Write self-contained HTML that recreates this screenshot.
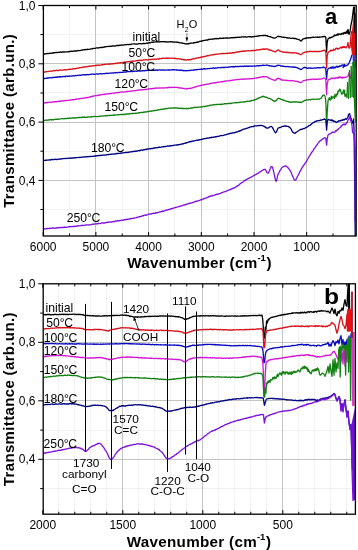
<!DOCTYPE html>
<html><head><meta charset="utf-8"><style>
html,body{margin:0;padding:0;background:#fff;}
svg{display:block;will-change:transform;}
text{font-family:"Liberation Sans",sans-serif;}
</style></head><body>
<svg width="358" height="550" viewBox="0 0 358 550">
<defs>
<clipPath id="ca"><rect x="43.4" y="5.5" width="313.8" height="230.5"/></clipPath>
<clipPath id="cb"><rect x="43.2" y="283.8" width="313.2" height="230.40000000000003"/></clipPath>
</defs>
<rect width="358" height="550" fill="#fff"/>
<line x1="69.5" y1="5.5" x2="69.5" y2="236.0" stroke="#e4e4e4" stroke-width="1" stroke-dasharray="1,1"/>
<line x1="122.5" y1="5.5" x2="122.5" y2="236.0" stroke="#e4e4e4" stroke-width="1" stroke-dasharray="1,1"/>
<line x1="174.5" y1="5.5" x2="174.5" y2="236.0" stroke="#e4e4e4" stroke-width="1" stroke-dasharray="1,1"/>
<line x1="227.5" y1="5.5" x2="227.5" y2="236.0" stroke="#e4e4e4" stroke-width="1" stroke-dasharray="1,1"/>
<line x1="280.5" y1="5.5" x2="280.5" y2="236.0" stroke="#e4e4e4" stroke-width="1" stroke-dasharray="1,1"/>
<line x1="333.5" y1="5.5" x2="333.5" y2="236.0" stroke="#e4e4e4" stroke-width="1" stroke-dasharray="1,1"/>
<line x1="43.4" y1="34.5" x2="356.2" y2="34.5" stroke="#e4e4e4" stroke-width="1" stroke-dasharray="1,1"/>
<line x1="43.4" y1="92.5" x2="356.2" y2="92.5" stroke="#e4e4e4" stroke-width="1" stroke-dasharray="1,1"/>
<line x1="43.4" y1="151.5" x2="356.2" y2="151.5" stroke="#e4e4e4" stroke-width="1" stroke-dasharray="1,1"/>
<line x1="43.4" y1="209.5" x2="356.2" y2="209.5" stroke="#e4e4e4" stroke-width="1" stroke-dasharray="1,1"/>
<line x1="95.5" y1="5.5" x2="95.5" y2="236.0" stroke="#c4c4c4" stroke-width="1"/>
<line x1="148.5" y1="5.5" x2="148.5" y2="236.0" stroke="#c4c4c4" stroke-width="1"/>
<line x1="201.5" y1="5.5" x2="201.5" y2="236.0" stroke="#c4c4c4" stroke-width="1"/>
<line x1="254.5" y1="5.5" x2="254.5" y2="236.0" stroke="#c4c4c4" stroke-width="1"/>
<line x1="306.5" y1="5.5" x2="306.5" y2="236.0" stroke="#c4c4c4" stroke-width="1"/>
<line x1="43.4" y1="63.5" x2="356.2" y2="63.5" stroke="#c4c4c4" stroke-width="1"/>
<line x1="43.4" y1="122.5" x2="356.2" y2="122.5" stroke="#c4c4c4" stroke-width="1"/>
<line x1="43.4" y1="180.5" x2="356.2" y2="180.5" stroke="#c4c4c4" stroke-width="1"/>
<line x1="346.5" y1="283.8" x2="346.5" y2="514.2" stroke="#e4e4e4" stroke-width="1" stroke-dasharray="1,1"/>
<line x1="330.5" y1="283.8" x2="330.5" y2="514.2" stroke="#e4e4e4" stroke-width="1" stroke-dasharray="1,1"/>
<line x1="314.5" y1="283.8" x2="314.5" y2="514.2" stroke="#e4e4e4" stroke-width="1" stroke-dasharray="1,1"/>
<line x1="298.5" y1="283.8" x2="298.5" y2="514.2" stroke="#e4e4e4" stroke-width="1" stroke-dasharray="1,1"/>
<line x1="266.5" y1="283.8" x2="266.5" y2="514.2" stroke="#e4e4e4" stroke-width="1" stroke-dasharray="1,1"/>
<line x1="250.5" y1="283.8" x2="250.5" y2="514.2" stroke="#e4e4e4" stroke-width="1" stroke-dasharray="1,1"/>
<line x1="234.5" y1="283.8" x2="234.5" y2="514.2" stroke="#e4e4e4" stroke-width="1" stroke-dasharray="1,1"/>
<line x1="218.5" y1="283.8" x2="218.5" y2="514.2" stroke="#e4e4e4" stroke-width="1" stroke-dasharray="1,1"/>
<line x1="186.5" y1="283.8" x2="186.5" y2="514.2" stroke="#e4e4e4" stroke-width="1" stroke-dasharray="1,1"/>
<line x1="170.5" y1="283.8" x2="170.5" y2="514.2" stroke="#e4e4e4" stroke-width="1" stroke-dasharray="1,1"/>
<line x1="154.5" y1="283.8" x2="154.5" y2="514.2" stroke="#e4e4e4" stroke-width="1" stroke-dasharray="1,1"/>
<line x1="138.5" y1="283.8" x2="138.5" y2="514.2" stroke="#e4e4e4" stroke-width="1" stroke-dasharray="1,1"/>
<line x1="106.5" y1="283.8" x2="106.5" y2="514.2" stroke="#e4e4e4" stroke-width="1" stroke-dasharray="1,1"/>
<line x1="90.5" y1="283.8" x2="90.5" y2="514.2" stroke="#e4e4e4" stroke-width="1" stroke-dasharray="1,1"/>
<line x1="74.5" y1="283.8" x2="74.5" y2="514.2" stroke="#e4e4e4" stroke-width="1" stroke-dasharray="1,1"/>
<line x1="58.5" y1="283.8" x2="58.5" y2="514.2" stroke="#e4e4e4" stroke-width="1" stroke-dasharray="1,1"/>
<line x1="43.2" y1="313.5" x2="355.4" y2="313.5" stroke="#e4e4e4" stroke-width="1" stroke-dasharray="1,1"/>
<line x1="43.2" y1="371.5" x2="355.4" y2="371.5" stroke="#e4e4e4" stroke-width="1" stroke-dasharray="1,1"/>
<line x1="43.2" y1="430.5" x2="355.4" y2="430.5" stroke="#e4e4e4" stroke-width="1" stroke-dasharray="1,1"/>
<line x1="43.2" y1="488.5" x2="355.4" y2="488.5" stroke="#e4e4e4" stroke-width="1" stroke-dasharray="1,1"/>
<line x1="122.5" y1="283.8" x2="122.5" y2="514.2" stroke="#c4c4c4" stroke-width="1"/>
<line x1="202.5" y1="283.8" x2="202.5" y2="514.2" stroke="#c4c4c4" stroke-width="1"/>
<line x1="282.5" y1="283.8" x2="282.5" y2="514.2" stroke="#c4c4c4" stroke-width="1"/>
<line x1="43.2" y1="342.5" x2="355.4" y2="342.5" stroke="#c4c4c4" stroke-width="1"/>
<line x1="43.2" y1="400.5" x2="355.4" y2="400.5" stroke="#c4c4c4" stroke-width="1"/>
<line x1="43.2" y1="459.5" x2="355.4" y2="459.5" stroke="#c4c4c4" stroke-width="1"/>
<g clip-path="url(#ca)">
<polyline points="43.2,54.2 43.5,54.1 43.8,54.3 44.1,54.0 44.5,54.1 44.9,54.0 45.4,53.8 45.8,53.9 46.3,53.6 46.8,53.7 47.3,53.5 47.9,53.4 48.4,53.5 49.0,53.6 49.6,53.2 50.2,53.2 50.8,53.3 51.4,53.4 52.0,53.1 52.6,52.9 53.2,53.1 53.8,52.6 54.4,52.9 55.0,52.6 55.5,52.5 55.9,52.4 56.4,52.5 56.8,52.7 57.3,52.3 57.8,52.5 58.3,52.5 58.8,52.3 59.3,52.4 59.8,52.1 60.3,52.0 60.8,52.1 61.3,52.3 61.8,52.1 62.3,52.0 62.8,52.1 63.3,52.0 63.8,51.9 64.4,52.1 64.9,52.0 65.4,51.8 65.9,51.9 66.4,51.8 66.9,52.0 67.5,51.8 68.0,51.6 68.5,51.9 69.0,51.4 69.5,51.5 70.0,51.6 70.5,51.3 71.0,51.4 71.5,51.1 72.0,51.4 72.5,51.4 73.0,51.2 73.5,51.3 74.0,51.0 74.5,51.1 75.0,51.0 75.5,51.0 76.0,50.9 76.5,51.0 77.0,51.0 77.5,50.7 78.0,50.7 78.5,50.4 79.0,50.6 79.5,50.6 80.0,50.7 80.5,50.5 81.0,50.2 81.5,50.2 82.0,50.3 82.5,49.9 83.0,50.0 83.5,49.8 84.0,49.7 84.5,49.6 85.0,49.9 85.5,49.5 86.0,49.5 86.5,49.5 87.0,49.7 87.5,49.2 88.0,49.4 88.5,49.3 89.0,49.4 89.5,49.3 90.0,49.3 90.5,48.9 91.0,48.9 91.5,48.8 92.0,49.0 92.5,48.9 93.0,48.4 93.5,48.4 94.0,48.3 94.5,48.3 95.0,48.3 95.5,48.3 96.0,48.0 96.5,47.8 97.0,48.0 97.5,47.9 98.0,47.9 98.5,48.0 99.0,47.8 99.5,47.7 100.0,47.7 100.5,47.6 101.0,47.2 101.5,47.6 102.0,47.5 102.5,47.5 103.0,47.4 103.5,47.1 104.0,47.1 104.5,46.9 105.0,47.1 105.5,46.7 106.0,46.7 106.5,46.7 107.0,46.6 107.5,46.6 108.0,46.4 108.5,46.4 109.0,46.4 109.5,46.3 110.0,46.4 110.5,46.1 111.0,46.5 111.5,46.3 112.0,46.0 112.5,46.0 113.0,46.0 113.5,46.0 114.0,45.8 114.5,46.1 115.0,46.1 115.5,45.8 116.0,45.8 116.5,45.5 117.0,45.5 117.5,45.5 118.0,45.4 118.5,45.7 119.0,45.3 119.5,45.2 120.0,45.6 120.5,45.3 121.0,45.0 121.5,45.2 122.0,44.9 122.5,45.1 123.0,45.2 123.5,45.1 124.0,45.0 124.5,44.7 125.0,44.7 125.5,44.6 126.0,44.8 126.5,44.6 127.0,44.7 127.5,44.4 128.0,44.3 128.5,44.6 129.0,44.6 129.5,44.5 130.0,44.5 130.5,44.4 131.0,44.3 131.5,44.0 132.0,44.2 132.6,44.0 133.1,43.8 133.6,43.8 134.1,43.9 134.7,43.9 135.2,44.1 135.7,44.2 136.2,43.9 136.8,44.1 137.3,44.1 137.8,44.1 138.3,43.8 138.8,43.7 139.4,43.6 139.9,43.6 140.4,43.6 140.9,43.8 141.4,43.9 141.8,43.8 142.3,43.6 142.8,43.7 143.3,43.7 143.7,43.3 144.1,43.6 144.6,43.6 145.0,43.5 145.6,43.5 146.2,43.3 146.8,43.0 147.3,43.3 147.9,43.0 148.4,43.1 148.9,43.1 149.4,42.7 149.8,42.6 150.3,42.8 150.8,42.6 151.2,42.3 151.7,42.2 152.2,42.1 152.6,42.4 153.1,42.3 153.5,41.9 154.0,42.2 154.5,42.2 155.0,42.0 155.5,41.8 156.0,41.9 156.5,41.6 157.0,41.5 157.5,42.0 158.0,41.8 158.5,41.8 159.0,42.0 159.5,41.7 160.0,41.9 160.5,41.9 161.0,41.6 161.5,41.6 162.0,41.7 162.5,41.6 163.0,41.8 163.5,41.7 164.0,41.7 164.5,41.6 165.0,42.0 165.5,41.7 166.0,41.8 166.5,41.9 167.1,42.0 167.6,41.8 168.1,42.1 168.7,41.9 169.2,41.9 169.7,41.9 170.2,41.7 170.8,41.9 171.3,41.8 171.8,41.7 172.3,42.1 172.8,41.8 173.3,42.0 173.7,42.1 174.2,42.1 174.6,42.0 175.0,42.1 175.6,42.2 176.2,42.3 176.8,42.0 177.3,42.3 177.8,42.2 178.2,42.3 178.7,42.6 179.1,42.5 179.6,42.6 180.0,42.8 180.5,42.9 181.0,42.8 181.5,42.9 182.0,43.0 182.5,43.1 182.9,43.3 183.4,43.3 183.9,43.4 184.4,43.5 184.9,43.8 185.4,43.8 185.9,43.9 186.4,44.0 187.0,43.7 187.4,43.8 187.9,44.0 188.4,43.9 188.9,43.5 189.4,43.4 189.9,43.5 190.5,43.2 191.0,43.2 191.5,43.0 192.1,43.2 192.6,43.2 193.1,43.2 193.6,42.7 194.1,42.9 194.6,42.8 195.0,42.4 195.6,42.7 196.1,42.6 196.6,42.1 197.0,42.4 197.5,42.0 197.9,41.9 198.4,42.1 198.9,41.9 199.3,41.4 199.8,41.4 200.4,41.3 201.0,41.1 201.4,41.0 201.9,40.9 202.3,41.0 202.8,40.6 203.3,40.7 203.7,40.6 204.2,40.3 204.7,40.3 205.2,40.3 205.8,40.2 206.3,39.8 206.8,40.2 207.3,40.0 207.9,40.0 208.4,39.5 208.9,39.4 209.5,39.3 210.0,39.5 210.5,39.2 211.0,39.1 211.4,39.2 211.9,39.3 212.4,39.2 212.9,38.9 213.4,38.8 213.9,39.1 214.4,38.9 214.9,38.9 215.4,38.6 216.0,38.5 216.5,38.8 217.0,38.6 217.5,38.4 218.0,38.8 218.5,38.6 219.0,38.6 219.5,38.2 220.0,38.6 220.5,38.2 221.0,38.5 221.5,38.3 222.0,38.2 222.5,38.3 223.0,38.5 223.5,38.1 224.0,38.0 224.5,38.2 225.0,38.1 225.5,38.0 226.0,38.0 226.5,37.9 227.0,38.0 227.5,38.0 228.0,38.0 228.5,38.2 229.0,38.0 229.5,38.0 230.0,37.8 230.5,37.9 231.0,37.7 231.5,37.8 232.0,37.6 232.4,37.9 232.9,37.8 233.4,37.5 233.9,37.6 234.3,37.8 234.8,37.4 235.3,37.7 235.8,37.4 236.3,37.4 236.8,37.5 237.3,37.2 237.8,37.3 238.3,37.3 238.9,37.4 239.4,37.1 240.0,37.3 240.5,37.2 240.9,37.1 241.4,37.0 241.9,36.9 242.4,36.8 242.9,36.8 243.4,36.8 244.0,37.1 244.5,36.8 245.1,36.8 245.6,36.7 246.1,37.1 246.7,37.1 247.2,37.0 247.8,36.8 248.3,36.7 248.8,36.7 249.3,36.8 249.9,36.7 250.3,36.8 250.8,36.7 251.3,37.0 251.8,37.0 252.2,36.8 252.6,36.6 253.0,36.9 253.7,36.6 254.3,36.5 254.9,36.3 255.5,36.4 256.0,36.4 256.5,36.4 257.0,36.2 257.5,36.2 257.9,35.9 258.3,36.0 258.7,35.9 259.2,36.0 259.6,35.7 260.0,35.7 260.6,35.7 261.1,35.6 261.6,35.7 262.1,35.6 262.6,35.6 263.1,35.5 263.6,35.5 264.0,35.6 264.5,35.3 265.0,35.3 265.5,35.7 266.0,35.4 266.5,35.8 267.0,35.9 267.5,35.7 268.0,36.3 268.5,36.4 269.0,36.5 269.5,36.7 270.0,36.9 270.5,36.7 271.0,37.0 271.6,37.2 272.1,37.6 272.6,37.7 273.1,37.9 273.6,37.9 274.1,38.2 274.6,38.2 275.0,38.2 275.6,37.8 276.1,37.4 276.6,37.1 277.0,36.8 277.5,36.4 278.0,36.6 278.4,36.4 278.8,36.5 279.3,36.5 279.7,36.7 280.2,36.7 280.7,36.6 281.3,37.1 282.0,37.2 282.4,37.2 282.8,37.2 283.3,37.4 283.8,37.1 284.3,37.5 284.8,37.4 285.4,37.3 285.9,37.5 286.5,37.8 287.0,37.6 287.6,37.9 288.1,38.1 288.6,37.9 289.1,37.9 289.6,38.0 290.0,38.2 290.6,38.3 291.2,38.3 291.8,38.3 292.3,38.1 292.8,38.2 293.2,38.3 293.7,38.5 294.1,38.4 294.6,38.6 295.0,38.4 295.6,38.5 296.1,38.7 296.7,39.1 297.2,39.2 297.7,39.3 298.2,39.3 298.6,39.6 299.0,39.7 299.6,40.0 300.1,40.3 300.5,41.0 301.0,40.7 301.5,40.9 302.0,40.3 302.5,39.2 303.0,39.0 303.4,38.9 303.8,38.9 304.3,38.5 305.0,38.3 305.4,38.2 305.7,38.5 306.1,38.0 306.5,38.1 307.0,37.8 307.5,37.9 308.0,38.1 308.6,37.6 309.3,37.8 310.0,37.6 310.4,37.8 310.8,37.6 311.3,37.4 311.8,37.7 312.3,37.4 312.8,37.2 313.3,37.2 313.9,37.4 314.4,37.3 315.0,37.2 315.6,37.1 316.1,37.2 316.7,37.2 317.2,37.4 317.7,37.0 318.2,37.3 318.7,37.3 319.2,37.0 319.6,37.3 320.0,37.2 320.7,37.2 321.4,36.8 322.0,36.8 322.6,36.7 323.1,36.9 323.5,36.6 324.0,36.5 324.3,36.5 324.7,36.5 325.0,36.5 325.8,37.4 326.0,40.2 326.6,51.9 327.2,42.2 328.0,39.1 328.3,38.6 328.7,38.4 329.3,37.9 330.0,37.4 330.4,38.1 330.8,37.8 331.3,37.5 331.8,36.9 332.3,37.1 332.9,36.9 333.4,36.1 334.0,36.1 334.5,34.9 335.0,35.8 335.5,35.2 336.0,35.5 336.5,35.2 337.0,34.5 337.5,34.0 338.0,35.3 338.5,33.9 339.0,34.4 339.5,34.1 340.0,33.9 340.5,34.5 341.0,34.7 341.6,33.4 342.1,33.9 342.6,33.2 343.1,33.5 343.6,33.1 344.1,32.7 344.6,32.6 345.0,32.5 345.7,33.5 346.4,32.7 347.1,32.2 347.7,33.2 348.0,33.3 348.0,32.4 347.8,32.0 347.4,32.1 346.9,32.1 346.3,32.6 345.7,32.4 345.0,32.7 344.4,32.9 343.8,33.5 343.3,34.1 343.0,34.0 344.0,33.2 346.0,32.8 348.0,29.5 349.0,34.4 350.0,32.0 351.0,24.6 352.0,20.5 353.0,12.3 353.6,7.5 354.1,7.0 354.6,33.0" fill="none" stroke="#000000" stroke-width="1.3" stroke-linejoin="round"/>
<polyline points="43.2,72.3 43.5,72.2 43.8,72.2 44.1,72.1 44.5,72.0 44.9,71.8 45.4,71.9 45.8,72.1 46.3,71.6 46.8,71.7 47.3,71.7 47.9,71.7 48.4,71.3 49.0,71.3 49.6,71.2 50.2,71.2 50.8,71.1 51.4,71.3 52.0,71.1 52.6,71.1 53.2,70.6 53.8,70.5 54.4,70.8 55.0,70.8 55.5,70.5 55.9,70.6 56.4,70.2 56.8,70.4 57.3,70.6 57.8,70.5 58.3,70.5 58.8,70.5 59.3,70.1 59.8,70.0 60.3,70.0 60.8,70.2 61.3,70.2 61.8,70.3 62.3,70.2 62.8,70.1 63.3,70.1 63.8,69.9 64.4,69.9 64.9,69.6 65.4,70.0 65.9,69.7 66.4,70.0 66.9,69.8 67.5,69.6 68.0,69.4 68.5,69.4 69.0,69.6 69.5,69.6 70.0,69.2 70.5,69.1 71.0,69.3 71.5,69.2 72.0,69.1 72.5,68.9 73.0,69.0 73.5,68.6 74.0,68.7 74.5,68.7 75.0,68.9 75.5,68.6 76.0,68.7 76.5,68.4 77.0,68.2 77.5,68.1 78.0,68.3 78.5,68.1 79.0,67.8 79.5,67.6 80.0,67.7 80.5,67.7 81.0,67.5 81.5,67.3 82.0,67.5 82.5,67.5 83.0,67.1 83.5,66.9 84.0,67.0 84.5,66.9 85.0,67.0 85.5,66.7 86.0,66.9 86.5,66.8 87.0,66.6 87.5,66.4 88.0,66.7 88.5,66.3 89.0,66.5 89.5,66.1 90.0,66.1 90.5,66.3 91.0,66.0 91.5,66.2 92.0,65.9 92.5,65.7 93.0,65.7 93.5,65.7 94.0,65.8 94.5,65.9 95.0,65.4 95.5,65.5 96.0,65.3 96.5,65.6 97.0,65.2 97.5,65.1 98.0,65.0 98.5,65.1 99.0,65.3 99.5,65.2 100.0,65.1 100.5,65.2 101.0,65.1 101.5,64.8 102.0,64.6 102.5,65.0 103.0,64.8 103.5,64.4 104.0,64.7 104.5,64.5 105.0,64.4 105.5,64.4 106.0,64.2 106.5,64.1 107.0,64.2 107.5,64.2 108.0,64.4 108.5,64.0 109.0,64.3 109.5,63.9 110.0,64.0 110.5,64.1 111.0,64.1 111.5,63.8 112.0,63.6 112.5,63.8 113.0,63.7 113.5,63.9 114.0,63.5 114.5,63.5 115.0,63.7 115.5,63.2 116.0,63.3 116.5,63.5 117.0,63.4 117.5,63.0 118.0,62.9 118.5,62.8 119.0,63.2 119.5,62.8 120.0,63.0 120.5,63.0 121.0,62.6 121.5,62.5 122.0,62.8 122.5,62.6 123.0,62.3 123.5,62.5 124.0,62.2 124.5,62.1 125.0,61.9 125.5,62.2 126.0,62.2 126.5,62.0 127.0,62.1 127.5,61.6 128.0,61.6 128.5,61.7 129.0,61.9 129.5,61.8 130.0,61.4 130.5,61.3 131.0,61.3 131.5,61.3 132.0,61.5 132.6,61.0 133.1,61.3 133.6,61.2 134.1,61.2 134.7,61.1 135.2,61.0 135.7,60.8 136.2,60.7 136.8,60.7 137.3,60.8 137.8,60.4 138.3,60.4 138.8,60.6 139.4,60.3 139.9,60.2 140.4,60.1 140.9,60.3 141.4,60.2 141.8,60.4 142.3,60.3 142.8,60.4 143.3,59.9 143.7,59.8 144.1,59.8 144.6,59.9 145.0,60.0 145.6,59.8 146.2,59.7 146.8,59.7 147.3,59.8 147.9,59.8 148.4,59.8 148.9,59.8 149.4,59.7 149.8,59.4 150.3,59.7 150.8,59.4 151.2,59.5 151.7,59.4 152.2,59.5 152.6,59.2 153.1,59.2 153.5,59.2 154.0,59.1 154.5,59.4 155.0,59.2 155.5,59.1 156.0,59.1 156.5,59.3 157.0,59.0 157.5,58.8 158.0,59.0 158.5,58.9 159.0,59.0 159.5,58.5 160.0,58.6 160.5,58.7 161.0,58.7 161.5,58.7 162.0,58.2 162.5,58.3 163.0,58.1 163.5,58.1 164.0,58.5 164.5,58.3 165.0,58.4 165.5,58.1 166.0,58.4 166.5,58.1 167.0,58.0 167.5,58.3 167.9,58.4 168.4,58.0 168.9,58.2 169.4,58.2 169.9,58.1 170.4,58.2 170.9,58.1 171.4,58.1 171.9,58.2 172.4,58.4 172.9,58.4 173.4,58.2 173.9,58.2 174.5,58.4 175.0,58.6 175.5,58.4 175.9,58.5 176.4,58.5 176.9,58.8 177.4,58.8 178.0,58.6 178.5,58.7 179.0,58.9 179.5,59.1 180.1,59.2 180.6,59.0 181.1,59.1 181.7,59.5 182.2,59.4 182.7,59.4 183.2,59.5 183.7,59.9 184.2,59.6 184.7,59.8 185.2,59.7 185.7,59.8 186.1,60.1 186.6,60.1 187.0,59.8 187.6,59.7 188.2,60.0 188.8,59.7 189.3,59.5 189.9,59.9 190.4,59.5 190.9,59.6 191.4,59.3 191.9,59.4 192.3,59.1 192.8,58.9 193.2,58.7 193.7,58.8 194.1,58.8 194.6,58.8 195.0,58.3 195.6,58.5 196.1,58.2 196.6,58.2 197.0,57.9 197.5,57.9 197.9,57.9 198.4,58.0 198.9,57.5 199.3,57.6 199.8,57.6 200.4,57.6 201.0,57.0 201.4,56.9 201.9,57.2 202.3,57.2 202.8,56.8 203.3,56.5 203.7,56.8 204.2,56.4 204.7,56.6 205.2,56.3 205.8,56.3 206.3,55.9 206.8,56.1 207.3,55.7 207.9,55.7 208.4,55.8 208.9,55.7 209.5,55.2 210.0,55.2 210.5,55.2 211.0,55.1 211.4,55.0 211.9,54.8 212.4,54.7 212.9,54.9 213.4,54.9 213.9,54.4 214.4,54.6 214.9,54.6 215.4,54.2 216.0,54.5 216.5,54.1 217.0,54.2 217.5,54.1 218.0,54.1 218.5,53.9 219.0,53.9 219.5,53.9 220.0,53.8 220.5,53.8 221.0,53.7 221.5,53.6 222.0,53.4 222.5,53.7 223.0,53.6 223.5,53.4 224.0,53.7 224.5,53.7 225.0,53.5 225.5,53.3 226.0,53.5 226.5,53.3 227.0,53.2 227.5,53.4 228.0,53.2 228.5,53.3 229.0,53.3 229.5,53.0 230.0,53.3 230.5,52.9 231.0,53.2 231.5,53.1 232.0,52.9 232.4,52.6 232.9,52.8 233.4,52.6 233.9,52.8 234.3,52.3 234.8,52.6 235.3,52.5 235.8,52.3 236.3,52.2 236.8,51.8 237.3,52.1 237.8,51.8 238.3,52.0 238.9,51.9 239.4,51.4 240.0,51.6 240.4,51.7 240.9,51.2 241.4,51.3 241.8,51.4 242.3,51.1 242.8,51.4 243.3,51.1 243.8,51.3 244.3,50.9 244.8,51.1 245.3,51.3 245.9,50.9 246.4,50.9 246.9,51.0 247.4,50.8 247.9,50.7 248.5,50.7 249.0,50.7 249.5,51.0 250.0,50.8 250.5,50.9 251.0,50.5 251.5,50.8 252.0,50.4 252.5,50.6 253.0,50.6 253.5,50.4 254.1,50.6 254.6,50.3 255.1,50.3 255.7,50.4 256.2,49.9 256.8,50.3 257.3,50.0 257.9,49.8 258.4,49.9 259.0,49.6 259.5,49.9 260.0,49.6 260.5,49.4 261.1,49.5 261.6,49.3 262.0,49.1 262.5,49.3 263.0,48.9 263.4,49.3 263.8,48.9 264.2,49.1 264.6,49.3 265.0,49.0 265.8,49.1 266.4,49.0 267.0,48.9 267.5,49.0 267.9,49.2 268.3,49.6 268.7,49.6 269.1,49.8 269.5,50.2 270.0,49.9 270.5,50.1 271.0,50.5 271.6,50.4 272.1,50.7 272.6,51.1 273.1,51.1 273.6,51.4 274.1,51.5 274.6,51.8 275.0,51.8 275.6,51.5 276.1,51.4 276.6,50.9 277.0,50.4 277.5,50.4 278.0,50.0 278.4,50.0 278.8,50.1 279.3,50.6 279.7,51.0 280.2,51.2 280.7,51.3 281.3,51.5 282.0,51.6 282.4,52.0 282.8,52.0 283.3,52.0 283.8,52.2 284.3,52.1 284.8,52.4 285.4,52.4 285.9,52.2 286.5,52.6 287.0,52.2 287.6,52.5 288.1,52.5 288.6,52.5 289.1,52.4 289.6,52.8 290.0,52.5 290.6,52.8 291.2,53.0 291.8,52.6 292.3,52.6 292.8,52.9 293.2,52.8 293.7,52.9 294.1,53.0 294.6,52.7 295.0,52.8 295.6,52.9 296.1,52.8 296.7,53.4 297.2,53.4 297.7,53.5 298.2,53.3 298.6,53.9 299.0,53.9 299.6,54.1 300.1,54.6 300.5,54.7 301.0,54.7 301.5,54.3 302.0,53.9 302.5,53.2 303.0,52.9 303.4,52.8 303.8,52.6 304.3,52.5 305.0,52.2 305.4,51.9 305.7,52.0 306.1,51.9 306.5,52.0 307.0,51.8 307.5,51.6 308.0,51.7 308.6,51.8 309.3,51.4 310.0,51.7 310.4,51.2 310.8,51.3 311.3,51.3 311.8,51.6 312.3,51.7 312.8,51.6 313.3,51.3 313.9,51.6 314.4,51.3 315.0,51.3 315.6,51.6 316.1,51.5 316.7,51.5 317.2,51.5 317.7,51.6 318.2,51.4 318.7,51.5 319.2,51.4 319.6,51.5 320.0,51.3 320.7,51.3 321.4,51.1 322.0,50.8 322.6,50.6 323.1,50.7 323.5,50.3 324.0,50.6 324.3,50.2 324.7,50.1 325.0,50.3 325.8,52.1 326.0,54.9 326.6,67.8 327.2,55.8 328.0,52.5 328.3,52.3 328.7,51.8 329.3,51.5 330.0,51.4 330.4,50.1 330.8,50.8 331.3,50.3 331.8,50.8 332.3,50.6 332.9,50.6 333.4,49.1 334.0,50.2 334.5,50.1 335.0,50.0 335.5,48.5 336.0,48.6 336.5,48.3 337.0,48.0 337.5,49.2 338.0,49.0 338.5,48.6 339.0,48.8 339.5,48.4 340.0,47.8 340.5,47.3 341.1,47.2 341.7,48.2 342.3,47.2 342.9,47.3 343.5,47.3 344.0,46.6 344.4,46.9 344.8,46.8 345.0,47.4 344.9,46.7 344.3,46.5 343.5,47.4 343.0,46.6 344.0,47.0 346.0,47.8 347.5,45.5 348.0,42.5 348.5,46.0 349.0,48.2 350.0,47.4 351.0,35.0 352.0,31.0" fill="none" stroke="#d81018" stroke-width="1.3" stroke-linejoin="round"/>
<polyline points="43.2,78.8 43.5,78.6 43.8,78.3 44.1,78.5 44.5,78.4 44.9,78.5 45.4,78.3 45.8,78.4 46.3,78.3 46.8,78.0 47.3,78.3 47.9,77.9 48.4,78.2 49.0,77.8 49.6,77.6 50.2,77.6 50.8,77.9 51.4,77.9 52.0,77.4 52.6,77.5 53.2,77.5 53.8,77.6 54.4,77.2 55.0,77.3 55.5,77.2 55.9,77.4 56.4,77.1 56.8,77.4 57.3,77.0 57.8,76.9 58.3,77.1 58.8,77.0 59.3,76.7 59.8,77.0 60.3,76.6 60.8,77.0 61.3,76.9 61.8,76.9 62.3,76.8 62.8,76.6 63.3,76.6 63.8,76.5 64.4,76.7 64.9,76.3 65.4,76.7 65.9,76.2 66.4,76.2 66.9,76.2 67.5,76.5 68.0,76.3 68.5,76.2 69.0,76.4 69.5,76.0 70.0,76.1 70.5,76.1 71.0,76.1 71.5,76.1 72.0,76.0 72.5,75.8 73.0,75.8 73.5,75.6 74.0,75.9 74.5,75.8 75.0,75.8 75.5,75.5 76.0,75.5 76.5,75.7 77.0,75.5 77.5,75.3 78.0,75.4 78.5,75.5 79.0,75.2 79.5,75.1 80.0,75.1 80.5,75.3 81.0,75.3 81.5,74.9 82.0,74.9 82.5,74.9 83.0,74.9 83.5,74.9 84.0,74.7 84.5,74.8 85.0,74.6 85.5,75.0 86.0,74.8 86.5,74.5 87.0,74.9 87.5,74.4 88.0,74.5 88.5,74.8 89.0,74.7 89.5,74.6 90.0,74.4 90.5,74.3 91.0,74.4 91.5,74.1 92.0,74.2 92.5,74.2 93.0,74.0 93.5,74.2 94.0,74.3 94.5,74.3 95.0,74.1 95.5,74.2 96.0,74.0 96.5,73.8 97.0,74.0 97.5,73.9 98.0,74.1 98.5,74.1 99.0,73.8 99.5,73.9 100.0,73.9 100.5,73.7 101.0,73.6 101.5,73.8 102.0,73.9 102.5,73.8 103.0,73.7 103.5,73.7 104.0,73.6 104.5,73.6 105.0,73.5 105.5,73.3 106.0,73.5 106.5,73.2 107.0,73.3 107.5,73.5 108.0,73.4 108.5,73.3 109.0,73.1 109.5,73.1 110.0,73.1 110.5,73.2 111.0,73.0 111.5,73.1 112.0,73.2 112.5,72.8 113.0,73.0 113.5,73.0 114.0,72.8 114.5,72.8 115.0,73.0 115.5,72.5 116.0,72.7 116.5,72.5 117.0,72.8 117.5,72.8 118.0,72.6 118.5,72.3 119.0,72.5 119.5,72.5 120.0,72.5 120.5,72.4 121.0,72.4 121.5,72.4 122.0,72.3 122.5,72.2 123.0,72.4 123.5,72.0 124.0,72.2 124.5,72.0 125.0,72.1 125.5,71.8 126.0,72.2 126.5,71.8 127.0,71.6 127.5,71.7 128.0,71.7 128.5,71.5 129.0,71.6 129.5,71.6 130.0,71.7 130.5,71.5 131.0,71.4 131.5,71.4 132.0,71.6 132.6,71.6 133.1,71.4 133.6,71.2 134.1,71.5 134.7,71.2 135.2,71.1 135.7,71.0 136.2,71.3 136.8,71.3 137.3,71.2 137.8,71.0 138.3,71.0 138.8,70.8 139.4,71.2 139.9,70.8 140.4,71.0 140.9,71.0 141.4,71.0 141.8,70.8 142.3,70.7 142.8,70.8 143.3,70.5 143.7,70.8 144.1,70.6 144.6,70.8 145.0,70.5 145.6,70.5 146.2,70.4 146.7,70.5 147.2,70.3 147.6,70.2 148.1,70.5 148.5,70.3 148.9,70.3 149.3,70.3 149.7,70.3 150.1,70.3 150.5,70.4 151.0,70.4 151.4,70.2 151.9,70.5 152.4,70.4 153.0,70.0 153.6,70.4 154.3,70.4 155.0,70.3 155.4,70.0 155.8,70.3 156.2,70.2 156.6,69.9 157.1,69.9 157.5,70.4 158.0,70.2 158.5,70.0 159.0,69.9 159.5,69.9 160.0,69.9 160.5,70.2 161.0,70.0 161.6,69.9 162.1,70.2 162.7,70.2 163.2,69.8 163.8,70.2 164.3,70.0 164.9,70.1 165.4,70.1 166.0,70.2 166.5,70.1 167.1,70.1 167.6,69.8 168.2,70.0 168.7,69.9 169.3,70.0 169.8,69.9 170.3,70.1 170.8,69.9 171.4,69.8 171.9,69.8 172.3,69.7 172.8,69.9 173.3,69.7 173.7,69.9 174.2,69.7 174.6,69.9 175.0,69.9 175.7,69.9 176.3,70.1 176.9,69.7 177.4,70.2 178.0,70.0 178.5,70.1 179.0,70.2 179.5,70.3 180.0,70.1 180.5,70.2 180.9,70.5 181.4,70.1 181.8,70.4 182.3,70.5 182.7,70.2 183.1,70.5 183.6,70.6 184.0,70.8 184.5,70.5 185.0,70.8 185.5,70.6 186.0,70.6 186.5,70.8 187.0,70.4 187.5,70.7 187.9,70.6 188.4,70.5 188.9,70.7 189.3,70.4 189.8,70.4 190.2,70.4 190.7,70.5 191.2,70.2 191.6,70.2 192.1,70.2 192.6,70.2 193.1,70.3 193.6,69.9 194.1,70.1 194.5,69.9 195.0,69.9 195.5,69.7 196.1,69.7 196.6,69.9 197.1,69.7 197.6,69.7 198.2,69.4 198.7,69.3 199.3,69.3 199.8,69.4 200.4,69.3 201.0,69.3 201.4,68.9 201.9,69.2 202.3,69.3 202.8,69.1 203.2,68.8 203.7,68.9 204.2,68.7 204.7,68.7 205.1,69.1 205.6,68.9 206.1,68.8 206.6,68.9 207.1,68.9 207.6,68.7 208.1,68.7 208.6,68.6 209.1,68.6 209.6,68.5 210.1,68.5 210.6,68.3 211.2,68.4 211.7,68.3 212.2,68.4 212.7,68.0 213.2,68.0 213.8,67.9 214.3,68.3 214.8,68.3 215.3,68.1 215.8,67.9 216.4,68.1 216.9,68.1 217.4,67.9 217.9,67.7 218.5,67.7 219.0,67.7 219.5,67.6 220.0,67.7 220.5,67.7 221.0,67.8 221.5,67.4 222.0,67.6 222.5,67.3 223.0,67.3 223.5,67.6 224.0,67.4 224.6,67.6 225.1,67.3 225.6,67.1 226.1,67.2 226.7,67.3 227.2,67.4 227.7,67.4 228.3,67.1 228.8,67.0 229.3,66.8 229.8,67.1 230.4,66.8 230.9,66.8 231.4,66.7 231.9,66.6 232.5,66.9 233.0,66.6 233.5,67.0 234.0,66.5 234.5,66.9 235.0,66.5 235.5,66.4 236.0,66.7 236.4,66.5 236.9,66.7 237.4,66.4 237.8,66.3 238.3,66.6 238.7,66.6 239.2,66.6 239.6,66.5 240.0,66.2 240.6,66.4 241.2,66.5 241.8,66.3 242.4,66.5 243.0,66.2 243.5,66.5 244.0,66.4 244.5,66.0 245.1,66.0 245.6,66.3 246.0,66.4 246.5,66.0 247.0,66.1 247.5,66.3 247.9,66.1 248.4,66.4 248.8,66.2 249.3,66.0 249.8,66.1 250.2,66.2 250.7,66.1 251.1,66.3 251.6,66.0 252.1,66.3 252.5,66.1 253.0,66.2 253.5,66.1 254.1,66.0 254.6,65.9 255.1,66.1 255.7,66.2 256.2,66.0 256.8,65.9 257.3,65.7 257.9,65.5 258.4,65.9 259.0,65.7 259.5,65.8 260.0,65.5 260.5,65.6 261.1,65.7 261.6,65.6 262.0,65.4 262.5,65.2 263.0,65.3 263.4,65.5 263.8,65.2 264.2,65.3 264.6,65.3 265.0,65.4 265.8,65.3 266.4,65.1 267.0,65.0 267.5,65.2 267.9,65.3 268.3,65.5 268.7,65.6 269.1,65.8 269.5,65.4 270.0,65.9 270.5,65.9 271.0,66.0 271.6,66.0 272.1,65.9 272.6,66.3 273.1,66.4 273.6,66.4 274.1,66.6 274.6,66.3 275.0,66.2 275.6,66.3 276.1,66.2 276.6,65.6 277.0,65.6 277.5,65.5 278.0,65.1 278.4,65.3 278.8,65.4 279.3,65.4 279.7,65.4 280.2,65.6 280.7,66.0 281.3,66.1 282.0,66.1 282.4,65.9 282.8,66.4 283.3,66.4 283.8,66.2 284.3,66.4 284.8,66.6 285.4,66.7 285.9,66.5 286.5,66.6 287.0,66.7 287.6,66.5 288.1,66.6 288.6,66.6 289.1,66.9 289.6,66.8 290.0,66.9 290.6,66.9 291.2,67.0 291.8,66.8 292.3,66.8 292.8,67.3 293.2,67.0 293.7,66.9 294.1,67.2 294.6,67.3 295.0,67.0 295.6,67.4 296.1,67.4 296.7,67.6 297.2,67.6 297.7,67.8 298.2,68.4 298.6,68.5 299.0,68.5 299.6,68.8 300.1,69.0 300.5,69.5 301.0,69.4 301.5,69.4 302.0,68.9 302.5,68.5 303.0,68.2 303.4,67.7 303.8,67.5 304.3,67.5 305.0,67.5 305.4,67.5 305.7,67.5 306.1,67.9 306.5,68.1 307.0,67.9 307.5,68.3 308.0,68.3 308.6,67.9 309.3,68.2 310.0,68.1 310.4,68.0 310.8,68.4 311.3,68.1 311.8,68.2 312.3,68.2 312.8,68.3 313.3,68.2 313.9,68.0 314.4,68.0 315.0,67.8 315.6,68.2 316.1,68.2 316.7,67.8 317.2,67.6 317.7,67.7 318.2,67.7 318.7,68.0 319.2,67.9 319.6,67.9 320.0,67.5 320.7,67.8 321.4,67.7 322.0,67.5 322.6,67.6 323.1,67.1 323.5,67.0 324.0,67.3 324.3,67.5 324.7,67.4 325.0,67.4 325.8,69.3 326.0,72.1 326.6,79.3 327.2,71.9 328.0,68.8 328.3,68.4 328.7,68.4 329.3,68.2 330.0,67.8 330.4,67.5 330.8,68.3 331.3,67.1 331.8,68.2 332.3,67.2 332.9,66.9 333.4,68.2 334.0,67.0 334.5,68.0 335.0,67.8 335.5,67.7 336.0,66.4 336.5,66.8 337.0,66.1 337.5,67.3 338.0,67.1 338.5,66.6 339.0,66.2 339.5,65.9 340.0,66.6 340.5,66.0 341.1,66.1 341.7,65.2 342.3,65.2 342.9,64.8 343.5,65.7 344.0,65.4 344.4,64.6 344.8,65.8 345.0,64.8 344.9,65.4 344.3,65.5 343.5,66.2 343.0,67.5 344.0,66.5 346.0,65.8 348.0,64.6 349.0,63.0 350.0,60.9 351.0,58.0 352.0,54.8" fill="none" stroke="#0808c0" stroke-width="1.3" stroke-linejoin="round"/>
<polyline points="43.2,102.8 43.5,102.7 43.8,102.8 44.1,102.7 44.5,103.0 44.9,102.6 45.4,102.9 45.8,102.4 46.3,102.8 46.8,102.7 47.3,102.4 47.9,102.5 48.4,102.3 49.0,102.3 49.6,102.2 50.2,102.2 50.8,102.5 51.4,102.4 52.0,102.3 52.6,101.8 53.2,101.9 53.8,102.1 54.4,101.6 55.0,101.9 55.5,101.6 55.9,101.9 56.4,101.4 56.8,101.8 57.3,101.5 57.8,101.3 58.3,101.2 58.8,101.6 59.3,101.4 59.8,101.1 60.3,101.2 60.8,101.4 61.3,101.0 61.8,101.1 62.3,100.8 62.8,100.8 63.3,101.0 63.8,101.0 64.4,100.6 64.9,100.5 65.4,100.5 65.9,100.7 66.4,100.5 66.9,100.4 67.5,100.3 68.0,100.4 68.5,100.4 69.0,100.4 69.5,100.2 70.0,100.0 70.5,99.8 71.0,100.1 71.5,99.9 72.0,99.9 72.5,99.5 73.0,99.9 73.5,99.6 74.0,99.7 74.5,99.7 75.0,99.4 75.5,99.1 76.0,99.5 76.5,99.2 77.0,99.3 77.5,99.0 78.0,98.8 78.5,99.1 79.0,98.8 79.5,98.6 80.0,98.6 80.5,98.7 81.0,98.3 81.5,98.5 82.0,98.4 82.5,98.3 83.0,98.0 83.5,98.3 84.0,98.2 84.5,98.2 85.0,97.8 85.5,97.9 86.0,97.7 86.5,97.8 87.0,97.3 87.5,97.6 88.0,97.6 88.5,97.3 89.0,97.2 89.5,97.1 90.0,97.0 90.5,96.6 91.0,97.0 91.5,96.5 92.0,96.4 92.5,96.2 93.0,96.2 93.5,96.4 94.0,95.9 94.5,95.8 95.0,96.0 95.5,95.7 96.0,95.5 96.5,95.7 97.0,95.6 97.5,95.5 98.0,95.5 98.5,95.1 99.0,95.4 99.5,95.2 100.0,94.8 100.5,94.7 101.0,94.8 101.5,94.8 102.0,94.6 102.5,94.4 103.0,94.5 103.5,94.3 104.0,94.4 104.5,94.5 105.0,94.0 105.5,94.2 106.0,94.2 106.5,93.8 107.0,94.1 107.5,94.1 108.0,93.8 108.5,93.7 109.0,93.8 109.5,93.6 110.0,93.5 110.5,93.7 111.0,93.5 111.5,93.3 112.0,93.2 112.5,93.1 113.0,93.1 113.5,93.3 114.0,93.2 114.5,93.2 115.0,93.1 115.5,93.0 116.0,92.6 116.5,92.7 117.0,92.9 117.5,92.8 118.0,92.4 118.5,92.4 119.0,92.5 119.5,92.3 120.0,92.3 120.5,92.0 121.0,92.2 121.5,92.1 122.0,91.8 122.5,91.8 123.0,92.2 123.5,92.1 124.0,92.1 124.5,91.9 125.0,91.9 125.5,91.9 126.0,91.8 126.5,91.4 127.0,91.6 127.5,91.4 128.0,91.5 128.5,91.3 129.0,91.3 129.5,91.5 130.0,91.3 130.5,91.0 131.0,91.1 131.5,91.0 132.0,91.2 132.6,90.8 133.1,90.8 133.6,90.9 134.1,90.5 134.7,90.7 135.2,90.8 135.7,90.6 136.2,90.4 136.8,90.4 137.3,90.4 137.8,90.1 138.3,90.1 138.8,90.0 139.4,90.0 139.9,90.0 140.4,89.9 140.9,89.8 141.4,89.7 141.8,89.9 142.3,90.0 142.8,89.8 143.3,89.7 143.7,89.7 144.1,89.4 144.6,89.7 145.0,89.5 145.6,89.5 146.2,89.4 146.8,89.3 147.3,89.1 147.9,89.0 148.4,88.9 148.9,89.0 149.4,88.9 149.8,88.9 150.3,88.6 150.8,88.7 151.2,88.9 151.7,88.5 152.2,88.6 152.6,88.5 153.1,88.4 153.5,88.7 154.0,88.3 154.5,88.5 155.0,88.1 155.5,88.0 156.0,88.4 156.5,88.2 157.0,87.9 157.5,88.1 158.0,88.1 158.5,88.2 159.0,87.9 159.5,87.9 160.0,88.2 160.5,88.1 161.0,87.8 161.5,87.9 162.0,87.9 162.5,88.0 163.0,87.9 163.5,88.0 164.0,88.0 164.5,87.8 165.0,87.9 165.5,87.9 166.0,87.9 166.5,87.7 167.0,87.8 167.5,87.7 167.9,87.8 168.4,87.4 168.9,87.7 169.4,87.2 169.9,87.6 170.4,87.4 170.9,87.4 171.4,87.6 171.9,87.3 172.4,87.3 172.9,87.4 173.4,87.5 173.9,87.3 174.5,87.2 175.0,87.3 175.5,87.3 175.9,87.5 176.4,87.3 176.9,87.4 177.4,87.5 178.0,87.5 178.5,87.6 179.0,87.9 179.5,88.0 180.1,87.9 180.6,88.0 181.1,87.9 181.7,88.1 182.2,88.1 182.7,88.4 183.2,88.4 183.7,88.3 184.2,88.7 184.7,88.5 185.2,88.8 185.7,88.8 186.1,88.9 186.6,88.6 187.0,88.7 187.6,88.9 188.2,88.4 188.8,88.3 189.3,88.5 189.9,88.4 190.4,88.5 190.9,88.3 191.4,88.1 191.9,88.2 192.3,87.8 192.8,87.6 193.2,87.6 193.7,87.3 194.1,87.2 194.6,87.2 195.0,86.9 195.6,87.1 196.1,86.8 196.6,86.6 197.0,86.2 197.5,86.2 197.9,86.1 198.4,86.0 198.9,85.9 199.3,85.9 199.8,85.8 200.4,85.4 201.0,85.3 201.4,85.3 201.9,85.4 202.3,84.9 202.8,84.9 203.3,85.0 203.7,84.6 204.2,84.5 204.7,84.8 205.2,84.6 205.8,84.4 206.3,84.1 206.8,84.4 207.3,84.2 207.9,84.1 208.4,84.1 208.9,84.0 209.5,83.7 210.0,83.4 210.5,83.4 210.9,83.4 211.4,83.4 211.8,83.1 212.2,83.1 212.6,83.2 213.0,83.1 213.4,82.9 213.9,83.2 214.3,82.9 214.8,82.6 215.2,82.7 215.7,82.8 216.2,82.5 216.8,82.6 217.3,82.1 217.9,82.2 218.6,82.4 219.3,82.1 220.0,82.1 220.4,81.8 220.8,81.9 221.2,81.9 221.6,81.6 222.1,81.8 222.5,81.7 223.0,81.8 223.5,81.5 224.0,81.4 224.5,81.2 225.0,81.1 225.5,81.3 226.0,80.9 226.5,80.9 227.1,80.8 227.6,80.9 228.2,81.0 228.7,80.8 229.3,80.8 229.8,80.4 230.4,80.3 230.9,80.6 231.5,80.3 232.0,80.4 232.6,80.1 233.1,80.0 233.7,80.0 234.2,79.8 234.7,80.1 235.3,79.9 235.8,79.7 236.3,79.7 236.8,79.6 237.3,79.4 237.8,79.7 238.2,79.5 238.7,79.7 239.1,79.4 239.6,79.4 240.0,79.2 240.6,79.0 241.2,79.4 241.8,79.3 242.4,79.0 243.0,79.3 243.5,79.2 244.0,78.9 244.5,79.0 245.1,79.2 245.6,78.9 246.0,79.2 246.5,78.8 247.0,78.9 247.5,79.0 247.9,78.7 248.4,78.8 248.8,79.0 249.3,78.8 249.8,79.0 250.2,78.7 250.7,78.6 251.1,78.7 251.6,78.6 252.1,78.9 252.5,78.5 253.0,78.6 253.5,78.3 254.1,78.5 254.6,78.3 255.1,78.2 255.7,78.0 256.2,77.9 256.8,78.2 257.3,77.8 257.9,77.6 258.4,77.5 259.0,77.4 259.5,77.3 260.0,77.1 260.5,77.3 261.1,77.0 261.6,76.8 262.0,77.0 262.5,76.6 263.0,76.7 263.4,76.9 263.8,76.5 264.2,76.6 264.6,76.8 265.0,76.8 265.8,76.5 266.4,76.7 267.0,77.0 267.5,77.1 267.9,77.6 268.3,77.5 268.7,78.1 269.1,78.2 269.5,78.3 270.0,78.6 270.5,78.6 271.0,79.1 271.6,79.1 272.1,79.7 272.6,79.7 273.1,79.8 273.6,79.9 274.1,80.3 274.6,80.1 275.0,80.5 275.6,79.9 276.1,79.8 276.6,79.3 277.0,78.7 277.5,78.6 278.0,78.2 278.4,78.4 278.8,78.5 279.3,78.6 279.7,78.9 280.2,79.1 280.7,79.4 281.3,80.0 282.0,79.9 282.4,80.1 282.8,79.9 283.3,80.2 283.8,80.2 284.3,80.3 284.8,80.2 285.4,80.1 285.9,80.3 286.5,80.3 287.0,80.2 287.6,80.6 288.1,80.4 288.6,80.5 289.1,80.7 289.6,80.7 290.0,80.8 290.6,80.8 291.2,80.5 291.8,80.6 292.3,80.6 292.8,80.9 293.2,81.0 293.7,80.8 294.1,80.9 294.6,81.1 295.0,81.2 295.6,81.1 296.1,81.5 296.7,81.3 297.2,81.6 297.7,81.5 298.2,81.6 298.6,82.1 299.0,82.1 299.6,82.4 300.1,82.3 300.5,82.6 301.0,82.6 301.5,82.4 302.0,81.9 302.5,81.4 303.0,80.8 303.4,80.7 303.8,80.7 304.3,80.3 305.0,80.5 305.4,80.3 305.7,80.2 306.1,79.9 306.5,79.9 307.0,80.0 307.5,79.7 308.0,79.5 308.6,79.8 309.3,79.7 310.0,79.4 310.4,79.2 310.8,79.6 311.3,79.5 311.8,79.2 312.3,79.2 312.8,79.1 313.3,79.5 313.9,79.1 314.4,79.5 315.0,79.4 315.6,79.0 316.1,79.3 316.7,79.1 317.2,79.3 317.7,79.3 318.2,79.0 318.7,78.9 319.2,79.3 319.6,79.0 320.0,79.2 320.7,79.0 321.4,78.9 322.0,78.8 322.6,78.5 323.1,78.3 323.5,78.0 324.0,78.2 324.3,78.1 324.7,78.2 325.0,78.5 325.8,79.7 326.0,83.1 326.6,94.8 327.2,84.1 328.0,80.5 328.3,79.7 328.7,79.5 329.3,79.5 330.0,79.2 330.4,79.0 330.8,78.4 331.3,78.1 331.8,78.5 332.3,78.5 332.9,78.1 333.4,78.2 334.0,77.9 334.5,78.7 335.0,78.6 335.5,77.8 336.0,77.7 336.6,78.0 337.1,77.8 337.6,78.4 338.1,77.4 338.6,77.2 339.1,78.0 339.6,76.8 340.0,77.4 340.7,77.0 341.3,77.8 341.8,77.5 342.3,78.0 342.7,77.1 343.0,78.0 344.0,77.5 346.0,77.3 348.0,76.0 349.0,72.8 350.0,78.5 351.0,76.0 352.0,72.0" fill="none" stroke="#d414d4" stroke-width="1.3" stroke-linejoin="round"/>
<polyline points="43.2,120.6 43.5,120.6 43.7,120.7 44.0,120.7 44.3,120.3 44.7,120.4 45.0,120.4 45.4,120.2 45.7,120.1 46.1,120.2 46.5,120.1 46.9,120.3 47.4,120.2 47.8,120.0 48.2,120.0 48.7,120.0 49.2,119.9 49.6,119.8 50.1,119.7 50.6,119.6 51.2,120.1 51.7,119.9 52.2,119.5 52.7,119.8 53.3,119.9 53.8,119.6 54.4,119.3 55.0,119.4 55.6,119.4 56.1,119.2 56.7,119.3 57.3,119.0 57.9,119.4 58.5,119.2 59.1,119.1 59.7,119.2 60.4,119.0 61.0,118.8 61.6,118.7 62.2,118.6 62.8,118.5 63.5,118.8 64.1,118.8 64.7,118.5 65.4,118.4 66.0,118.6 66.4,118.6 66.8,118.6 67.3,118.2 67.7,118.5 68.2,118.5 68.6,118.4 69.1,118.2 69.5,118.1 70.0,118.4 70.4,118.1 70.9,118.1 71.4,118.1 71.9,118.0 72.3,118.2 72.8,117.9 73.3,117.7 73.8,118.0 74.3,118.0 74.8,118.0 75.3,117.9 75.8,118.0 76.3,118.0 76.8,117.7 77.3,117.7 77.8,117.5 78.4,117.5 78.9,117.6 79.4,117.4 79.9,117.6 80.4,117.3 81.0,117.4 81.5,117.7 82.0,117.2 82.5,117.1 83.1,117.3 83.6,117.1 84.1,117.4 84.7,117.0 85.2,117.4 85.7,117.3 86.3,117.3 86.8,117.1 87.3,117.0 87.8,117.1 88.4,117.0 88.9,116.9 89.4,116.8 90.0,116.9 90.5,116.9 91.0,117.0 91.5,117.0 92.0,116.6 92.6,116.6 93.1,116.7 93.6,116.7 94.1,116.5 94.6,116.4 95.1,116.3 95.6,116.4 96.1,116.5 96.6,116.7 97.1,116.6 97.6,116.6 98.1,116.6 98.6,116.5 99.1,116.3 99.5,116.4 100.0,116.0 100.5,116.2 101.1,116.2 101.6,116.0 102.1,116.1 102.7,116.2 103.2,116.0 103.7,116.0 104.3,115.8 104.8,115.8 105.3,116.0 105.9,115.5 106.4,115.6 106.9,115.8 107.5,115.6 108.0,115.4 108.5,115.7 109.1,115.5 109.6,115.5 110.1,115.4 110.7,115.4 111.2,115.4 111.7,115.3 112.2,115.1 112.8,115.1 113.3,115.4 113.8,115.2 114.3,114.9 114.8,115.3 115.4,114.9 115.9,114.8 116.4,115.0 116.9,114.8 117.4,114.9 117.9,114.9 118.4,114.7 118.9,114.8 119.4,114.5 119.9,114.7 120.4,114.7 120.9,114.4 121.4,114.5 121.9,114.3 122.3,114.5 122.8,114.6 123.3,114.4 123.8,114.5 124.2,114.5 124.7,114.1 125.2,114.5 125.6,114.3 126.1,114.0 126.5,114.3 127.0,114.0 127.4,113.9 127.9,114.2 128.3,114.0 128.7,114.1 129.2,113.7 129.6,114.0 130.0,113.6 130.6,113.6 131.2,113.6 131.8,113.4 132.4,113.6 133.0,113.3 133.6,113.3 134.2,113.5 134.7,113.3 135.3,113.4 135.8,113.2 136.4,113.3 136.9,113.1 137.4,113.2 137.9,113.1 138.5,112.7 139.0,112.9 139.5,112.7 140.0,112.8 140.5,112.7 140.9,112.7 141.4,112.3 141.9,112.4 142.4,112.5 142.8,112.5 143.3,112.4 143.8,112.0 144.2,112.2 144.7,111.9 145.1,112.0 145.6,112.1 146.0,111.7 146.5,112.0 146.9,111.8 147.4,111.6 147.8,111.5 148.2,111.5 148.7,111.7 149.1,111.5 149.6,111.2 150.0,111.1 150.6,111.0 151.2,111.3 151.7,110.9 152.3,111.0 152.8,110.8 153.4,110.9 153.9,110.6 154.5,110.4 155.0,110.7 155.6,110.4 156.1,110.4 156.6,110.4 157.1,110.4 157.6,109.8 158.1,109.9 158.6,109.7 159.1,109.8 159.6,109.9 160.1,109.7 160.6,109.3 161.0,109.3 161.5,109.5 161.9,109.4 162.4,109.1 162.8,109.1 163.3,108.9 163.7,109.2 164.2,108.9 164.6,109.0 165.0,108.9 165.6,108.5 166.2,108.6 166.8,108.4 167.3,108.7 167.8,108.5 168.3,108.2 168.8,108.2 169.3,108.2 169.7,108.2 170.2,108.3 170.6,108.1 171.1,108.1 171.6,107.9 172.0,108.1 172.5,108.0 173.0,107.8 173.4,108.0 173.9,108.3 174.5,107.8 175.0,107.8 175.5,108.1 175.9,107.9 176.4,107.9 176.9,108.0 177.4,107.9 178.0,108.1 178.5,108.1 179.0,108.4 179.5,108.4 180.1,108.0 180.6,108.3 181.1,108.4 181.7,108.5 182.2,108.5 182.7,108.4 183.2,108.5 183.7,108.4 184.2,108.3 184.7,108.6 185.2,108.7 185.7,108.7 186.1,108.6 186.6,108.4 187.0,108.6 187.6,108.6 188.2,108.4 188.8,108.5 189.3,108.3 189.9,108.3 190.4,108.2 190.9,107.9 191.4,108.0 191.9,107.9 192.3,108.1 192.8,107.8 193.2,107.7 193.7,107.5 194.1,107.5 194.6,107.5 195.0,107.3 195.5,107.2 196.0,107.6 196.5,107.4 196.9,107.3 197.2,107.4 197.6,107.2 198.0,107.2 198.5,107.1 199.0,107.1 199.6,107.1 200.2,107.2 201.0,107.0 201.4,107.2 201.8,106.8 202.2,107.0 202.7,106.8 203.1,106.4 203.6,106.4 204.1,106.5 204.7,106.6 205.2,106.2 205.8,106.3 206.3,106.1 206.9,106.2 207.5,105.7 208.1,105.8 208.6,105.9 209.2,105.5 209.8,105.4 210.3,105.1 210.9,105.1 211.4,105.1 211.9,105.2 212.5,104.9 212.9,104.9 213.4,104.7 213.8,104.8 214.3,104.9 214.6,104.7 215.0,104.4 215.8,104.6 216.3,104.7 216.7,104.5 216.9,104.2 217.1,104.6 217.4,104.7 217.7,104.5 218.2,104.3 218.9,104.3 220.0,104.4 220.3,104.6 220.7,104.4 221.0,104.5 221.4,104.1 221.8,104.1 222.3,104.3 222.7,104.2 223.2,104.1 223.6,104.1 224.1,103.9 224.6,103.7 225.1,103.9 225.6,103.6 226.2,103.9 226.7,103.7 227.3,103.7 227.8,103.7 228.4,103.5 228.9,103.5 229.5,103.2 230.1,103.6 230.6,103.4 231.2,103.5 231.8,103.0 232.4,103.2 232.9,103.2 233.5,103.0 234.0,102.8 234.6,102.7 235.1,102.7 235.7,102.9 236.2,102.5 236.7,102.8 237.2,102.6 237.7,102.6 238.2,102.6 238.7,102.5 239.1,102.5 239.6,102.4 240.0,102.2 240.6,102.3 241.2,102.0 241.8,102.2 242.4,102.1 243.0,102.1 243.6,101.8 244.1,102.0 244.6,102.0 245.2,101.7 245.7,101.5 246.2,101.6 246.7,101.7 247.2,101.3 247.7,101.1 248.1,101.3 248.6,101.3 249.1,101.3 249.5,101.0 250.0,101.3 250.4,100.8 250.9,101.0 251.3,100.6 251.7,100.5 252.2,100.4 252.6,100.3 253.0,100.4 253.6,100.3 254.2,99.9 254.8,100.1 255.4,99.6 256.0,99.2 256.5,99.0 257.1,99.0 257.6,98.9 258.1,98.2 258.6,97.9 259.1,98.1 259.6,97.6 260.0,97.7 260.5,97.3 260.9,97.2 261.3,96.9 261.7,97.0 262.0,96.7 262.8,96.4 263.4,96.7 263.8,96.3 264.1,96.8 264.5,96.6 265.0,97.1 265.4,97.1 265.9,97.4 266.4,97.2 266.9,97.6 267.4,97.7 267.9,98.1 268.4,98.3 269.0,98.3 269.5,98.3 270.0,98.6 270.5,98.8 271.0,99.2 271.6,99.5 272.1,99.8 272.6,100.4 273.1,100.7 273.6,100.8 274.1,101.4 274.6,101.1 275.0,101.3 275.6,100.9 276.1,100.8 276.6,100.1 277.0,99.2 277.5,98.8 278.0,98.6 278.4,98.2 278.8,98.3 279.3,98.5 279.7,98.9 280.2,98.7 280.7,99.2 281.3,99.4 282.0,99.6 282.4,99.8 282.8,100.1 283.3,99.9 283.8,100.4 284.3,100.3 284.8,100.7 285.4,100.9 285.9,100.8 286.5,101.3 287.0,101.6 287.6,101.4 288.1,101.4 288.6,101.6 289.1,102.1 289.6,101.8 290.0,102.3 290.6,102.0 291.2,102.3 291.7,102.0 292.2,102.0 292.6,102.2 293.1,101.8 293.5,101.8 294.0,102.1 294.5,101.9 295.0,102.0 295.5,102.1 296.0,101.6 296.5,101.8 297.0,102.2 297.5,102.2 298.1,102.0 298.6,102.3 299.1,102.2 299.6,102.4 300.1,102.2 300.6,102.2 301.0,102.6 301.6,102.2 302.1,102.2 302.6,101.6 303.1,101.5 303.5,101.0 304.0,100.8 304.5,100.4 305.0,100.5 305.4,100.1 305.9,100.3 306.3,100.1 306.7,99.8 307.1,99.9 307.6,99.9 308.1,100.0 308.7,99.7 309.3,99.5 310.0,99.8 310.4,99.8 310.8,99.6 311.3,99.4 311.8,99.3 312.3,99.3 312.9,99.2 313.4,99.2 314.0,99.4 314.5,99.3 315.1,99.3 315.7,99.2 316.3,99.0 316.8,99.3 317.4,99.2 317.9,99.1 318.4,99.1 318.8,99.1 319.3,99.1 319.7,99.0 320.0,98.8 320.9,98.2 321.6,97.5 322.0,96.9 322.3,96.5 322.6,95.7 323.0,95.3 323.6,95.1 324.1,94.9 324.6,95.6 325.0,96.0 325.6,99.5 326.0,105.2 326.6,124.9 327.2,112.1 328.0,101.2 328.3,99.9 328.7,99.3 329.3,97.6 330.0,100.1 330.4,99.6 330.8,99.9 331.3,96.2 331.9,98.6 332.4,96.8 333.0,97.9 333.6,97.3 334.1,96.1 334.6,98.4 335.0,94.2 335.6,96.6 336.2,96.3 336.7,94.1 337.1,93.7 337.6,94.6 338.0,90.9 338.6,91.6 339.1,91.2 339.5,89.1 340.0,90.3 340.5,89.8 340.9,91.7 341.4,93.4 342.0,94.4 342.5,92.9 343.1,93.3 343.8,92.7 344.3,91.9 344.8,91.6 345.0,91.1 344.8,91.3 344.2,91.2 343.5,91.5 343.0,91.6 344.0,89.8 345.0,96.4 346.0,94.0 347.0,97.6 347.6,82.0" fill="none" stroke="#108010" stroke-width="1.3" stroke-linejoin="round"/>
<polyline points="43.2,160.4 43.5,160.2 43.7,160.2 44.0,160.5 44.3,160.3 44.7,160.3 45.0,160.3 45.4,160.4 45.8,160.1 46.1,160.0 46.5,160.3 47.0,160.1 47.4,160.1 47.8,160.2 48.3,160.2 48.7,160.1 49.2,159.7 49.7,159.8 50.2,160.0 50.7,160.0 51.2,159.6 51.7,159.5 52.3,159.5 52.8,159.4 53.3,159.5 53.9,159.7 54.4,159.5 55.0,159.4 55.6,159.2 56.1,159.3 56.7,159.6 57.3,159.4 57.9,159.2 58.5,159.2 59.1,159.3 59.6,159.2 60.2,158.8 60.8,159.1 61.4,158.9 62.0,158.9 62.6,158.7 63.2,158.7 63.8,158.6 64.4,158.6 64.9,158.4 65.5,158.4 66.1,158.6 66.7,158.3 67.2,158.3 67.8,158.5 68.4,158.2 68.9,158.2 69.5,158.1 70.0,158.4 70.5,158.0 71.0,158.2 71.4,158.3 71.9,157.9 72.4,158.0 72.9,158.1 73.4,158.0 73.8,157.8 74.3,157.6 74.8,157.8 75.3,157.7 75.8,157.8 76.3,157.6 76.8,157.6 77.3,157.7 77.8,157.7 78.3,157.4 78.8,157.4 79.3,157.4 79.8,157.6 80.3,157.2 80.8,157.5 81.3,157.3 81.8,157.1 82.3,157.2 82.8,157.0 83.3,156.8 83.8,157.1 84.3,156.9 84.8,156.9 85.3,156.9 85.8,157.0 86.3,156.9 86.8,156.5 87.3,156.8 87.8,156.6 88.4,156.6 88.9,156.7 89.4,156.5 89.9,156.5 90.4,156.6 90.9,156.4 91.4,156.3 91.9,156.3 92.4,156.4 92.9,156.3 93.4,156.3 93.9,156.1 94.5,155.8 95.0,156.1 95.5,156.0 96.0,156.0 96.5,156.0 97.0,155.6 97.5,155.6 98.0,155.5 98.5,155.8 99.0,155.4 99.5,155.3 100.0,155.6 100.5,155.5 101.0,155.2 101.5,155.4 102.0,155.4 102.5,155.2 103.1,155.0 103.6,155.2 104.1,155.0 104.6,155.1 105.1,155.2 105.7,155.1 106.2,155.0 106.7,154.6 107.3,154.6 107.8,154.7 108.3,154.4 108.8,154.8 109.4,154.4 109.9,154.3 110.4,154.3 111.0,154.2 111.5,154.4 112.0,154.2 112.6,154.1 113.1,154.0 113.6,153.8 114.2,153.8 114.7,154.1 115.2,154.0 115.8,153.9 116.3,153.6 116.8,153.5 117.3,153.4 117.8,153.5 118.4,153.4 118.9,153.4 119.4,153.3 119.9,153.3 120.4,153.1 120.9,153.3 121.4,152.9 121.9,153.2 122.4,153.0 122.9,152.7 123.3,152.8 123.8,152.8 124.3,152.7 124.8,152.7 125.2,152.5 125.7,152.4 126.2,152.6 126.6,152.3 127.0,152.5 127.5,152.5 127.9,152.3 128.3,152.2 128.8,152.4 129.2,152.1 129.6,152.2 130.0,151.8 130.7,151.9 131.3,151.9 131.9,151.5 132.6,151.8 133.2,151.3 133.8,151.5 134.3,151.2 134.9,151.5 135.5,151.2 136.0,151.3 136.6,151.0 137.1,151.0 137.6,151.0 138.1,150.7 138.7,150.6 139.2,150.8 139.6,150.4 140.1,150.7 140.6,150.2 141.1,150.1 141.5,150.0 142.0,150.3 142.4,150.3 142.9,149.9 143.3,150.0 143.8,149.7 144.2,149.9 144.6,149.8 145.1,149.4 145.5,149.3 145.9,149.5 146.3,149.1 146.7,149.5 147.2,149.1 147.6,149.0 148.0,149.1 148.6,148.9 149.2,148.9 149.8,148.6 150.3,148.9 150.8,148.6 151.4,148.7 151.8,148.3 152.3,148.5 152.8,148.6 153.3,148.2 153.7,147.9 154.2,148.0 154.6,148.1 155.1,147.8 155.5,147.9 156.0,147.6 156.5,147.7 156.9,147.8 157.4,147.6 157.9,147.6 158.4,147.2 158.9,147.5 159.4,147.1 160.0,147.4 160.5,147.4 160.9,147.3 161.4,147.0 161.9,146.8 162.4,146.8 162.9,146.9 163.5,146.7 164.0,146.9 164.5,146.4 165.1,146.5 165.6,146.6 166.2,146.4 166.7,146.3 167.3,146.0 167.8,146.0 168.4,146.0 168.9,146.2 169.4,146.1 170.0,145.7 170.5,146.0 171.0,145.5 171.5,145.7 172.0,145.8 172.5,145.5 172.9,145.7 173.4,145.5 173.8,145.1 174.2,145.2 174.6,145.2 175.0,145.1 175.7,145.2 176.4,144.8 177.0,145.1 177.6,144.8 178.0,144.6 178.5,144.8 178.9,144.5 179.3,144.6 179.8,144.7 180.2,144.5 180.6,144.4 181.0,144.1 181.5,144.2 182.0,143.9 182.5,144.1 182.9,143.7 183.4,143.8 183.9,143.5 184.3,143.4 184.8,143.4 185.3,143.0 185.8,142.9 186.2,143.1 186.7,142.6 187.2,142.7 187.8,142.6 188.3,142.2 188.8,141.9 189.4,141.7 190.0,142.0 190.4,141.5 190.9,141.6 191.4,141.5 191.8,141.2 192.3,141.3 192.8,141.0 193.3,141.1 193.9,140.9 194.4,140.8 194.9,140.6 195.4,140.6 196.0,140.4 196.5,140.2 197.0,140.2 197.5,140.4 198.1,140.1 198.6,140.2 199.1,139.6 199.6,140.0 200.1,139.7 200.5,139.7 201.0,139.5 201.5,139.5 202.1,139.1 202.6,139.3 203.1,138.9 203.6,138.8 204.1,138.6 204.6,138.7 205.1,138.7 205.6,138.5 206.0,138.7 206.5,138.2 207.0,138.3 207.5,138.0 208.0,138.1 208.5,138.1 209.0,138.0 209.5,137.6 210.0,137.6 210.5,137.7 211.0,137.8 211.4,137.2 211.9,137.4 212.4,137.4 212.9,137.4 213.4,137.1 213.9,137.2 214.4,137.0 214.9,137.1 215.4,136.6 216.0,137.0 216.5,136.6 217.0,136.5 217.5,136.3 218.0,136.3 218.5,136.4 219.0,136.3 219.5,135.9 220.0,135.9 220.5,135.7 221.0,135.6 221.5,135.5 222.0,135.5 222.6,135.7 223.1,135.5 223.6,135.3 224.1,135.0 224.7,134.9 225.2,134.9 225.7,134.8 226.2,134.6 226.7,134.4 227.2,134.1 227.7,134.2 228.2,134.1 228.7,134.0 229.1,133.5 229.6,133.7 230.0,133.4 230.6,133.2 231.1,133.5 231.7,133.2 232.2,133.1 232.7,132.7 233.2,132.9 233.6,132.9 234.1,132.8 234.5,132.6 235.0,132.5 235.5,132.4 236.0,132.1 236.5,131.9 237.0,132.0 237.5,131.8 238.0,131.7 238.4,131.2 238.9,131.4 239.4,131.0 239.9,131.0 240.4,130.4 240.9,130.6 241.4,130.3 242.0,129.8 242.5,129.9 243.0,129.4 243.5,129.2 244.0,129.1 244.5,128.8 245.0,128.8 245.5,128.8 246.0,128.6 246.5,128.4 247.0,128.1 247.5,128.1 248.0,127.9 248.4,127.7 248.9,127.7 249.4,127.5 249.9,127.1 250.4,126.8 250.9,126.9 251.4,126.9 252.0,126.5 252.5,126.6 253.0,126.6 253.5,126.5 254.0,126.0 254.5,126.1 255.0,125.8 255.5,125.8 256.1,126.0 256.6,125.8 257.2,125.8 257.7,125.7 258.2,125.6 258.7,125.5 259.3,125.5 259.8,125.7 260.2,125.6 260.7,125.4 261.2,125.3 261.6,125.4 262.0,125.7 262.7,125.7 263.3,126.0 263.9,126.4 264.4,126.4 264.9,127.0 265.3,127.0 265.8,127.7 266.2,127.6 266.6,127.9 267.0,128.3 267.6,128.0 268.2,127.8 268.7,127.8 269.1,127.3 269.6,127.2 270.0,126.7 270.5,126.6 271.0,126.6 271.4,126.4 272.0,127.0 272.4,127.3 272.9,128.5 273.4,129.2 274.0,130.5 274.5,131.3 275.0,132.1 275.5,132.8 276.1,132.3 276.6,131.6 277.1,130.2 277.5,129.1 278.0,128.2 278.5,128.0 278.8,127.9 279.3,127.6 280.0,127.3 280.4,127.5 280.8,127.3 281.3,127.0 281.8,126.5 282.3,126.5 282.9,126.3 283.4,126.4 284.0,125.9 284.5,126.0 285.0,126.0 285.5,125.9 286.0,126.0 286.5,126.1 287.0,126.4 287.6,126.3 288.1,126.4 288.6,126.9 289.1,126.7 289.5,127.4 290.0,127.7 290.5,128.2 291.0,128.9 291.5,129.9 291.9,130.9 292.4,131.6 292.9,132.4 293.4,132.6 294.0,133.0 294.4,132.9 294.9,133.3 295.4,133.1 295.9,132.4 296.4,132.3 296.9,131.9 297.5,131.3 298.0,131.1 298.5,130.8 299.0,130.4 299.5,129.9 300.0,129.9 300.5,129.5 301.1,129.4 301.6,129.2 302.1,129.3 302.6,129.0 303.0,128.9 303.5,128.7 304.0,128.4 304.5,128.5 305.0,128.2 305.5,127.9 306.0,127.5 306.5,127.1 307.0,127.1 307.5,126.9 308.0,126.5 308.5,126.0 309.0,125.6 309.5,125.4 310.0,125.3 310.5,124.6 311.0,124.5 311.5,123.9 312.0,123.6 312.5,123.1 313.0,122.8 313.5,122.5 314.0,122.5 314.5,122.2 315.0,121.5 315.5,121.4 316.0,121.5 316.5,121.0 317.0,120.9 317.5,120.9 318.0,120.6 318.5,120.6 319.0,120.6 319.5,120.5 320.0,120.6 320.5,120.1 321.1,119.9 321.6,120.1 322.2,119.7 322.8,119.7 323.3,119.5 323.8,119.4 324.3,119.1 324.7,119.0 325.0,119.3 325.8,120.0 326.0,122.0 326.6,130.1 327.2,122.1 328.0,119.4 328.4,119.4 328.9,119.8 329.4,119.9 330.0,119.8 330.4,120.3 330.9,119.9 331.4,120.6 332.0,119.7 332.5,120.8 333.0,120.6 333.5,120.6 334.0,121.6 334.4,121.2 334.9,121.5 335.4,121.6 336.0,122.3 336.4,122.5 336.9,122.2 337.4,121.7 337.9,121.9 338.4,120.8 338.9,120.7 339.4,120.9 340.0,121.1 340.5,120.5 341.0,120.5 341.5,120.4 342.1,119.8 342.6,120.4 343.2,120.0 343.7,119.4 344.2,119.4 344.6,119.8 345.0,119.1 345.7,118.7 346.2,119.4 346.6,118.8 347.0,118.4 347.6,117.6 348.1,116.6 348.5,114.7 349.0,114.1 349.5,113.7 350.0,115.1 350.5,116.8 351.0,118.6 351.5,119.9 352.0,121.1 352.5,122.2 353.0,123.5 353.5,119.0 354.0,128.2 354.7,182.4 355.2,236.2" fill="none" stroke="#000080" stroke-width="1.3" stroke-linejoin="round"/>
<polyline points="43.2,228.6 43.5,228.9 43.8,228.9 44.1,228.7 44.5,228.9 44.9,228.9 45.3,228.8 45.7,228.8 46.2,228.7 46.7,228.8 47.2,228.3 47.7,228.6 48.3,228.6 48.8,228.5 49.4,228.3 50.0,228.1 50.6,228.3 51.2,228.4 51.8,228.1 52.4,228.0 53.0,228.0 53.6,227.9 54.2,228.1 54.8,228.2 55.4,228.1 56.0,227.9 56.6,228.0 57.2,227.6 57.8,228.0 58.3,227.7 58.8,227.5 59.4,227.8 59.9,227.5 60.3,227.5 60.8,227.4 61.2,227.5 61.6,227.6 62.0,227.7 62.8,227.2 63.4,227.6 63.9,227.2 64.2,227.2 64.6,227.4 64.8,227.2 65.1,227.2 65.3,227.3 65.6,227.1 65.9,227.4 66.2,227.1 66.7,227.3 67.3,227.2 68.0,227.0 68.9,226.7 70.0,226.9 70.3,226.5 70.7,226.7 71.0,226.7 71.4,226.4 71.7,226.7 72.1,226.7 72.5,226.6 72.9,226.4 73.3,226.5 73.7,226.4 74.2,226.2 74.6,226.5 75.0,226.5 75.5,226.4 76.0,226.4 76.4,226.0 76.9,226.3 77.4,225.8 77.9,225.9 78.4,225.7 78.9,225.8 79.4,225.9 79.9,225.8 80.4,225.7 80.9,225.6 81.5,225.4 82.0,225.5 82.5,225.3 83.1,225.2 83.6,225.5 84.2,225.3 84.7,225.2 85.3,225.0 85.8,225.2 86.4,224.9 86.9,224.9 87.5,224.9 88.1,224.9 88.6,225.0 89.2,224.8 89.7,224.9 90.3,224.8 90.9,224.6 91.4,224.6 92.0,224.2 92.5,224.2 93.1,224.0 93.6,224.4 94.2,224.2 94.7,224.1 95.3,223.9 95.8,223.9 96.4,223.7 96.9,223.9 97.4,224.0 98.0,223.6 98.5,223.4 99.0,223.4 99.5,223.4 100.0,223.6 100.5,223.5 101.0,223.2 101.5,223.0 102.0,222.9 102.5,222.9 103.1,223.1 103.6,222.9 104.1,223.1 104.6,223.0 105.1,222.9 105.7,222.6 106.2,222.7 106.7,222.3 107.3,222.2 107.8,222.4 108.3,222.3 108.8,222.1 109.4,222.0 109.9,221.8 110.4,222.2 111.0,222.0 111.5,222.0 112.0,222.0 112.6,221.6 113.1,221.7 113.6,221.5 114.2,221.6 114.7,221.5 115.2,221.1 115.8,221.0 116.3,221.0 116.8,221.1 117.3,220.9 117.8,220.7 118.4,221.0 118.9,220.9 119.4,220.6 119.9,220.4 120.4,220.7 120.9,220.5 121.4,220.1 121.9,220.2 122.4,220.3 122.9,220.3 123.3,220.0 123.8,220.0 124.3,219.7 124.8,219.7 125.2,219.9 125.7,219.6 126.2,219.4 126.6,219.5 127.0,219.2 127.5,219.2 127.9,219.3 128.3,219.2 128.8,219.2 129.2,219.2 129.6,218.9 130.0,218.7 130.7,218.9 131.3,218.4 131.9,218.5 132.6,218.3 133.2,218.4 133.8,218.2 134.3,217.9 134.9,218.0 135.5,217.8 136.0,217.6 136.6,217.3 137.1,217.6 137.6,217.3 138.1,216.9 138.7,216.8 139.2,217.1 139.6,216.6 140.1,216.5 140.6,216.6 141.1,216.5 141.5,216.3 142.0,216.2 142.4,215.7 142.9,215.6 143.3,215.9 143.8,215.7 144.2,215.2 144.6,215.1 145.1,215.1 145.5,215.3 145.9,214.9 146.3,215.0 146.7,215.0 147.2,214.8 147.6,214.8 148.0,214.4 148.6,214.2 149.2,214.0 149.8,214.2 150.3,213.8 150.8,214.1 151.4,213.9 151.8,213.5 152.3,213.7 152.8,213.3 153.3,213.4 153.7,213.1 154.2,213.4 154.6,213.4 155.1,213.3 155.5,212.7 156.0,213.1 156.5,212.8 156.9,212.9 157.4,212.6 157.9,212.6 158.4,212.4 158.9,212.4 159.4,211.9 160.0,211.8 160.5,211.9 160.9,211.7 161.4,211.6 161.8,211.3 162.3,211.5 162.8,211.0 163.3,211.3 163.8,211.1 164.3,210.8 164.8,210.5 165.3,210.6 165.8,210.3 166.3,210.2 166.8,209.9 167.3,210.2 167.8,209.8 168.3,209.6 168.9,209.3 169.4,209.5 169.9,209.4 170.4,209.2 170.9,208.7 171.4,208.7 172.0,208.5 172.5,208.6 173.0,208.1 173.5,208.2 174.0,208.2 174.5,208.0 175.0,207.5 175.5,207.3 176.0,207.2 176.5,207.3 177.0,207.2 177.5,207.0 178.1,206.8 178.6,206.6 179.1,206.5 179.6,206.4 180.1,206.4 180.7,206.1 181.2,206.0 181.7,205.9 182.2,205.7 182.8,205.5 183.3,205.0 183.8,205.2 184.3,205.1 184.8,204.7 185.3,204.8 185.8,204.3 186.3,204.5 186.8,204.1 187.3,204.1 187.7,203.8 188.2,203.6 188.7,203.5 189.1,203.4 189.6,203.1 190.0,203.2 190.6,203.3 191.2,202.9 191.7,202.9 192.3,202.6 192.8,202.5 193.3,202.4 193.9,202.2 194.4,201.8 194.9,201.6 195.4,201.5 195.9,201.2 196.4,201.1 196.8,201.3 197.3,201.2 197.8,200.8 198.3,200.8 198.7,200.7 199.2,200.6 199.6,200.4 200.1,200.1 200.5,199.8 201.0,200.0 201.5,199.5 202.1,199.5 202.6,199.2 203.1,199.1 203.6,199.1 204.1,198.5 204.6,198.5 205.1,198.3 205.6,198.1 206.0,198.1 206.5,197.6 207.0,197.7 207.5,197.4 208.0,197.4 208.5,196.7 209.0,196.6 209.5,196.5 210.0,196.6 210.5,196.0 211.0,196.0 211.4,196.1 211.9,196.0 212.4,195.5 212.9,195.5 213.4,195.5 213.9,195.3 214.4,195.2 214.9,195.1 215.4,194.7 216.0,194.6 216.5,194.3 217.0,194.5 217.5,194.1 218.0,194.0 218.5,194.2 219.0,193.9 219.5,193.7 220.0,193.6 220.5,193.4 221.0,193.2 221.5,192.9 222.0,192.6 222.6,192.4 223.1,192.1 223.6,192.1 224.1,191.8 224.7,191.6 225.2,191.6 225.7,191.6 226.2,191.3 226.7,190.8 227.2,190.9 227.7,190.4 228.2,190.2 228.7,190.1 229.1,189.9 229.6,189.9 230.0,189.6 230.6,189.5 231.1,188.9 231.7,189.1 232.2,188.6 232.7,188.6 233.2,188.0 233.6,188.2 234.1,187.7 234.5,187.8 235.0,187.6 235.5,187.3 236.0,186.8 236.5,186.4 237.0,186.1 237.5,186.2 238.0,185.5 238.4,185.4 238.9,185.0 239.4,184.7 239.9,184.0 240.4,183.6 240.9,183.2 241.4,183.2 242.0,182.5 242.5,182.3 243.0,181.9 243.5,181.3 244.0,180.9 244.5,180.5 245.0,180.6 245.5,179.9 246.0,180.0 246.5,179.4 247.0,179.3 247.5,178.8 248.0,178.8 248.6,178.3 249.1,178.1 249.6,178.0 250.1,177.5 250.6,177.3 251.1,177.4 251.6,176.9 252.0,176.7 252.5,176.6 253.0,176.1 253.5,175.7 254.1,175.4 254.6,175.2 255.1,174.9 255.7,174.7 256.2,174.3 256.7,174.2 257.2,173.5 257.7,173.5 258.2,173.2 258.7,172.7 259.1,172.3 259.6,172.2 260.0,171.8 260.6,171.6 261.2,171.4 261.7,170.7 262.2,170.4 262.8,170.2 263.2,169.8 263.7,169.6 264.2,169.5 264.6,169.3 265.0,169.3 265.6,169.8 266.1,170.7 266.6,171.9 267.0,172.6 267.5,173.0 268.0,173.2 268.5,172.9 268.9,171.9 269.4,170.8 269.9,169.5 270.5,168.2 271.0,166.8 271.5,166.7 272.0,166.6 272.5,167.4 273.0,169.1 273.6,171.6 274.1,173.8 274.6,176.1 275.1,178.4 275.6,180.5 276.0,181.2 276.6,181.1 277.0,179.0 277.4,176.7 278.0,174.4 278.4,173.5 278.9,172.8 279.4,171.7 279.9,170.6 280.4,170.2 281.0,169.1 281.5,168.2 282.0,167.6 282.5,167.4 283.0,166.9 283.5,166.3 284.0,166.3 284.5,166.2 285.0,166.0 285.5,165.9 286.0,166.1 286.5,166.4 287.0,166.8 287.5,167.0 288.1,167.8 288.6,168.5 289.1,169.1 289.5,169.8 290.0,170.2 290.6,171.5 291.1,172.3 291.6,173.6 292.1,175.0 292.6,176.2 293.0,176.8 293.5,178.1 294.0,179.2 294.5,180.2 295.0,180.2 295.4,179.9 295.9,179.6 296.4,178.6 296.9,177.8 297.4,176.4 298.0,175.5 298.5,174.3 298.9,173.9 299.4,172.5 299.9,171.6 300.5,170.6 301.0,169.9 301.5,168.7 302.0,168.0 302.5,167.1 303.0,166.1 303.5,165.7 304.0,164.7 304.5,164.4 305.0,163.5 305.5,162.6 306.0,162.2 306.5,161.1 307.0,160.3 307.5,159.5 307.9,158.8 308.4,157.6 308.9,156.9 309.5,155.9 310.0,155.4 310.5,154.2 310.9,153.8 311.4,152.9 311.9,152.2 312.4,151.5 313.0,150.8 313.5,149.7 314.0,149.0 314.5,148.2 315.0,147.9 315.5,146.8 316.0,146.1 316.5,145.5 317.0,144.8 317.5,144.3 318.0,143.2 318.5,142.6 319.0,141.9 319.5,141.6 320.0,141.0 320.5,140.5 321.1,140.2 321.6,139.7 322.2,139.3 322.8,139.0 323.3,138.3 323.8,138.4 324.3,137.9 324.7,137.6 325.0,137.9 325.8,138.1 326.0,139.8 326.6,145.1 327.2,138.9 328.0,135.2 328.3,134.8 328.8,134.3 329.3,134.0 329.8,133.9 330.4,133.8 330.9,133.4 331.5,133.0 332.0,132.2 332.5,132.2 333.0,132.5 333.5,132.2 334.0,132.3 334.5,132.2 335.0,132.1 335.5,130.9 336.0,130.5 336.5,131.1 337.0,130.4 337.5,129.5 338.1,129.7 338.6,128.7 339.1,128.3 339.5,128.0 340.0,127.7 340.6,127.3 341.1,125.9 341.6,126.1 342.1,125.3 342.6,124.6 343.0,124.5 343.6,124.6 344.1,123.9 344.5,124.7 345.0,124.9 345.5,124.6 346.0,123.9 346.5,122.6 347.0,122.8 347.5,121.6 348.1,119.9 348.6,119.1 349.0,118.9 349.6,117.0 350.0,117.1 350.5,119.3 351.0,121.5 351.5,122.5 352.0,125.4 352.5,131.8 353.0,132.9 353.5,133.6 354.0,134.7 354.5,137.6 355.0,149.9 355.2,220.9" fill="none" stroke="#7c10e0" stroke-width="1.3" stroke-linejoin="round"/>
<polyline points="347.6,82 348.5,99 349.4,70 350.3,98 351.2,66 352.1,97 353,62 353.6,98 354,62" fill="none" stroke="#108010" stroke-width="1"/>
<polygon points="350.8,45 352,31 353.2,20 354,14 356,13 356,55 352,55" fill="#e01010"/>
<polygon points="352.5,55 355.6,55 355.6,68 353,68" fill="#3a3ab8"/>
<polygon points="353.8,62 355.6,60 355.6,122.5 354.7,122.5 353.8,100" fill="#108010"/>
<line x1="354.6" y1="7" x2="354.6" y2="33" stroke="#000" stroke-width="1"/>
</g>
<g clip-path="url(#cb)">
<polyline points="42.8,314.5 43.1,314.5 43.4,314.6 43.7,314.6 44.0,314.5 44.4,314.7 44.8,314.9 45.2,314.7 45.6,314.6 46.1,314.8 46.5,314.6 47.0,314.5 47.5,314.6 48.0,314.4 48.5,314.7 49.1,314.4 49.6,314.5 50.1,314.8 50.7,314.7 51.3,314.8 51.9,314.6 52.4,314.6 53.0,314.7 53.6,314.8 54.2,314.4 54.8,314.7 55.4,314.4 56.0,314.4 56.6,314.7 57.2,314.6 57.7,314.7 58.3,314.7 58.9,314.6 59.4,314.4 60.0,314.3 60.5,314.5 61.0,314.6 61.4,314.4 61.9,314.3 62.5,314.2 63.0,314.3 63.5,314.6 64.0,314.2 64.6,314.3 65.1,314.3 65.7,314.6 66.2,314.7 66.8,314.2 67.4,314.3 67.9,314.7 68.5,314.7 69.0,314.3 69.6,314.3 70.1,314.4 70.7,314.3 71.3,314.4 71.8,314.4 72.3,314.3 72.9,314.2 73.4,314.2 73.9,314.2 74.4,314.2 74.9,314.5 75.4,314.5 75.9,314.3 76.4,314.6 76.9,314.5 77.3,314.4 77.7,314.4 78.2,314.3 78.6,314.7 78.9,314.5 79.3,314.3 79.7,314.3 80.0,314.6 81.0,314.5 81.7,314.7 82.3,314.6 82.7,314.9 83.1,315.0 83.4,314.8 83.6,315.1 83.9,315.0 84.3,315.4 84.7,315.5 85.3,315.6 86.0,315.4 86.4,315.3 86.8,315.6 87.2,315.6 87.6,315.4 88.1,315.5 88.5,315.7 89.0,315.5 89.5,315.8 90.0,315.6 90.5,315.6 91.1,315.7 91.6,315.8 92.1,315.9 92.7,315.6 93.2,316.0 93.8,315.7 94.3,315.8 94.9,316.0 95.4,316.0 96.0,316.0 96.5,316.1 97.1,315.8 97.6,315.9 98.1,316.1 98.6,315.9 99.1,315.8 99.5,315.9 100.0,316.1 100.6,316.2 101.1,316.1 101.6,316.2 102.1,316.1 102.6,315.9 103.1,315.9 103.6,316.1 104.1,315.7 104.6,316.0 105.0,315.7 105.5,315.7 106.0,315.9 106.4,315.7 106.9,316.1 107.4,316.0 107.9,315.8 108.4,315.6 108.9,315.6 109.4,315.8 109.9,315.7 110.4,315.6 111.0,315.8 111.5,315.7 111.9,315.8 112.4,315.4 112.9,315.4 113.4,315.5 113.9,315.6 114.4,315.4 114.9,315.6 115.4,315.3 115.9,315.4 116.5,315.4 117.0,315.5 117.5,315.5 118.1,315.3 118.6,315.3 119.1,315.5 119.6,315.5 120.2,315.3 120.7,315.0 121.2,315.2 121.7,315.2 122.2,315.0 122.7,314.9 123.2,315.4 123.7,315.4 124.1,315.0 124.6,315.2 125.0,315.3 125.6,315.1 126.1,315.1 126.7,315.5 127.2,315.6 127.7,315.5 128.1,315.4 128.6,315.7 129.0,315.7 129.5,316.2 129.9,315.9 130.4,316.1 130.8,316.5 131.3,316.3 131.8,316.4 132.2,316.5 132.7,316.6 133.3,316.9 133.8,317.1 134.4,316.8 135.0,316.8 135.4,317.1 135.8,317.0 136.3,317.0 136.7,316.9 137.2,316.9 137.6,317.3 138.1,316.8 138.6,316.9 139.1,317.1 139.5,317.2 140.0,317.2 140.5,316.9 141.0,317.1 141.5,316.9 142.0,316.7 142.5,316.8 143.1,316.9 143.6,316.9 144.1,316.5 144.6,316.5 145.2,316.9 145.7,316.4 146.2,316.7 146.8,316.5 147.3,316.4 147.8,316.4 148.4,316.4 148.9,316.7 149.5,316.2 150.0,316.6 150.5,316.3 150.9,316.2 151.4,316.5 151.9,316.3 152.4,316.2 152.9,316.3 153.4,316.4 154.0,316.4 154.5,316.3 155.0,316.0 155.5,316.3 156.0,316.2 156.6,316.4 157.1,316.4 157.6,316.0 158.2,316.3 158.7,316.3 159.2,316.0 159.8,316.0 160.3,316.0 160.8,316.0 161.3,316.0 161.9,315.8 162.4,315.9 162.9,316.2 163.4,315.9 163.9,316.1 164.4,316.2 164.9,316.1 165.3,315.8 165.8,316.2 166.3,316.1 166.7,316.2 167.2,316.1 167.6,316.1 168.2,316.2 168.8,315.9 169.4,316.1 170.0,316.0 170.6,316.3 171.2,316.0 171.8,316.2 172.4,316.1 172.9,316.4 173.5,316.2 174.0,316.5 174.6,316.6 175.1,316.6 175.6,316.3 176.1,316.8 176.6,316.7 177.0,316.7 177.5,316.8 178.0,316.5 178.4,317.0 178.8,316.9 179.2,316.9 179.6,317.0 180.0,317.2 180.8,317.4 181.4,317.7 182.0,317.6 182.5,317.9 182.9,318.2 183.3,318.4 183.7,318.7 184.1,318.8 184.5,319.3 185.0,319.1 185.5,319.1 186.0,319.0 186.5,319.3 187.0,318.9 187.5,318.8 188.0,318.6 188.6,318.5 189.1,318.3 189.6,317.8 190.1,317.7 190.6,317.6 191.1,317.1 191.6,317.1 192.0,316.9 192.6,316.5 193.0,316.7 193.4,316.4 193.8,316.1 194.2,316.2 194.7,316.3 195.4,316.1 196.4,316.0 196.7,315.9 197.1,316.2 197.5,316.0 197.9,315.8 198.3,315.9 198.7,315.8 199.1,316.1 199.6,316.0 200.0,315.7 200.5,316.1 201.0,315.6 201.5,315.9 202.0,315.8 202.5,315.9 203.0,315.8 203.5,315.6 204.1,315.8 204.7,316.0 205.2,315.9 205.8,315.7 206.4,315.7 207.0,315.9 207.6,315.9 208.2,315.7 208.8,316.0 209.4,316.0 210.0,315.8 210.4,315.7 210.9,315.9 211.3,316.0 211.7,315.7 212.2,315.7 212.7,315.7 213.1,315.9 213.6,315.7 214.1,315.9 214.5,315.9 215.0,315.9 215.5,315.7 216.0,316.1 216.5,316.1 217.0,315.9 217.5,316.1 218.1,315.8 218.6,316.1 219.1,316.0 219.6,316.1 220.1,316.2 220.6,315.9 221.2,316.2 221.7,315.9 222.2,315.8 222.7,316.0 223.3,316.2 223.8,316.2 224.3,316.3 224.8,316.1 225.4,316.3 225.9,316.1 226.4,315.9 226.9,316.1 227.5,316.2 228.0,316.1 228.5,316.1 229.0,316.0 229.5,316.0 230.0,316.1 230.5,316.1 231.0,316.1 231.5,315.9 232.0,315.8 232.6,316.0 233.1,316.2 233.6,316.2 234.2,315.9 234.7,316.0 235.2,316.1 235.8,315.9 236.3,316.1 236.9,316.3 237.4,315.9 237.9,316.1 238.5,316.1 239.0,316.1 239.6,316.1 240.1,316.1 240.6,315.9 241.2,316.2 241.7,316.2 242.2,315.7 242.7,316.2 243.2,315.9 243.7,315.7 244.2,315.7 244.7,316.1 245.2,316.0 245.7,315.7 246.2,315.9 246.6,315.9 247.1,316.1 247.5,315.8 248.0,316.0 248.4,315.7 248.8,315.7 249.2,315.6 249.6,315.8 250.0,315.9 250.7,315.7 251.4,315.6 252.1,315.6 252.8,315.5 253.4,315.5 254.0,315.6 254.5,315.6 255.1,315.4 255.6,315.6 256.1,315.5 256.6,315.8 257.0,315.5 257.5,315.7 257.9,315.4 258.3,315.3 258.7,315.5 259.0,315.2 259.4,315.2 259.7,315.2 260.0,315.5 261.1,315.5 261.7,315.0 261.9,315.1 262.2,316.0 262.8,320.2 263.2,326.1 263.9,338.4 264.7,337.8 265.3,327.2 265.9,330.0 266.6,320.8 267.3,323.2 268.2,319.1 269.0,319.9 268.9,319.3 270.0,318.2 270.3,317.8 270.6,317.7 271.0,317.5 271.4,317.5 271.9,317.5 272.3,317.4 272.8,317.3 273.4,316.8 273.9,316.8 274.4,316.9 275.0,316.7 275.6,316.5 276.1,316.4 276.7,316.1 277.3,316.2 277.9,315.9 278.4,315.7 279.0,315.5 279.5,315.3 280.0,315.6 280.5,315.4 281.0,314.9 281.5,315.0 282.1,315.0 282.6,314.9 283.2,314.7 283.7,314.9 284.2,314.5 284.8,314.5 285.3,314.6 285.8,314.4 286.4,314.2 286.9,314.0 287.4,314.0 287.9,314.0 288.3,314.0 288.8,313.7 289.2,313.7 289.6,313.6 290.0,313.5 290.7,313.7 291.2,313.4 291.6,313.2 291.9,313.2 292.2,313.4 292.5,313.0 292.9,313.3 293.4,312.9 294.1,312.9 295.0,312.8 295.3,313.1 295.7,312.8 296.1,312.8 296.6,312.7 297.0,312.7 297.5,313.0 298.0,312.9 298.5,313.0 299.0,313.0 299.5,312.7 300.1,313.1 300.6,312.2 301.2,313.0 301.7,312.5 302.3,312.2 302.9,312.8 303.5,312.9 304.0,312.3 304.6,312.0 305.1,312.8 305.7,312.6 306.2,312.4 306.8,312.8 307.3,311.8 307.8,311.8 308.3,311.8 308.7,311.7 309.2,312.4 309.6,312.3 310.0,311.7 310.7,311.7 311.4,311.7 312.0,312.1 312.6,312.1 313.1,312.3 313.6,311.7 314.1,312.3 314.6,311.7 315.1,311.6 315.5,311.4 316.0,311.3 316.4,312.0 316.8,312.0 317.2,311.7 317.6,311.1 318.0,311.1 318.6,311.0 319.2,311.1 319.7,311.4 320.2,310.7 320.7,311.0 321.1,311.1 321.6,310.4 322.0,310.8 322.5,311.1 323.0,310.9 323.5,310.8 324.1,311.2 324.7,311.0 325.2,310.8 325.8,311.0 326.4,311.6 326.9,311.6 327.3,311.7 327.7,311.4 328.0,311.0 330.0,313.0 332.0,308.0 333.0,310.3 334.0,313.6 335.0,309.1 336.0,314.2 337.0,315.8 338.0,311.4 339.0,313.3 340.0,310.3 341.0,310.8 342.0,308.0 343.0,310.3 344.0,304.1 345.0,299.6 346.0,305.2 347.0,306.3 347.8,290.0 348.3,284.0 348.8,311.0 349.3,284.0 349.6,310.0" fill="none" stroke="#000000" stroke-width="1.3" stroke-linejoin="round"/>
<polyline points="42.8,328.8 43.1,328.9 43.4,329.0 43.7,328.7 44.0,329.0 44.4,329.0 44.8,328.8 45.2,328.5 45.6,328.9 46.1,328.7 46.5,328.7 47.0,328.6 47.5,328.7 48.0,328.5 48.5,328.7 49.1,328.6 49.6,328.6 50.1,328.4 50.7,328.2 51.3,328.2 51.9,328.1 52.4,328.3 53.0,328.2 53.6,328.2 54.2,328.2 54.8,328.2 55.4,328.0 56.0,327.8 56.6,328.0 57.2,327.7 57.7,327.8 58.3,327.6 58.9,327.9 59.4,327.7 60.0,327.6 60.5,327.9 61.0,327.5 61.4,327.9 61.9,327.8 62.5,327.5 63.0,327.8 63.5,327.7 64.0,327.9 64.6,327.7 65.1,327.6 65.7,327.9 66.2,327.5 66.8,327.8 67.4,327.5 67.9,327.6 68.5,327.5 69.0,327.9 69.6,327.7 70.1,327.9 70.7,327.7 71.3,327.9 71.8,327.9 72.3,327.6 72.9,327.8 73.4,328.0 73.9,327.7 74.4,328.0 74.9,327.8 75.4,327.9 75.9,328.2 76.4,328.2 76.9,328.3 77.3,328.0 77.7,328.1 78.2,328.2 78.6,328.2 78.9,328.1 79.3,328.3 79.7,328.1 80.0,328.4 81.0,328.3 81.7,328.2 82.3,328.7 82.7,328.5 83.1,328.9 83.4,328.8 83.6,329.4 83.9,329.3 84.3,329.5 84.7,329.4 85.3,329.7 86.0,329.6 86.4,329.6 86.8,329.9 87.2,329.5 87.6,329.7 88.1,329.5 88.6,329.9 89.1,329.9 89.6,329.5 90.1,329.7 90.7,329.7 91.2,329.8 91.8,329.8 92.3,329.6 92.9,329.8 93.4,329.4 94.0,329.4 94.6,329.7 95.1,329.3 95.7,329.4 96.2,329.5 96.7,329.4 97.3,329.3 97.8,329.7 98.2,329.5 98.7,329.6 99.2,329.3 99.6,329.7 100.0,329.4 100.7,329.7 101.3,329.7 101.9,329.9 102.5,329.9 103.1,329.9 103.7,330.0 104.2,330.3 104.7,330.2 105.2,330.1 105.6,330.6 106.1,330.7 106.5,330.7 106.9,330.8 107.3,330.6 107.6,330.8 108.0,331.0 108.7,331.0 109.0,330.9 109.1,330.3 109.4,330.4 109.9,330.1 111.0,329.8 111.3,329.6 111.7,329.5 112.0,329.6 112.4,329.5 112.8,329.3 113.3,329.3 113.7,329.3 114.2,329.3 114.7,329.1 115.1,328.8 115.7,329.1 116.2,328.7 116.7,328.9 117.2,328.8 117.8,328.3 118.4,328.4 118.9,328.5 119.5,328.1 120.0,328.1 120.6,327.9 121.2,327.7 121.7,327.8 122.3,327.7 122.9,327.7 123.4,327.8 123.9,327.8 124.5,327.9 125.0,327.8 125.5,327.6 126.0,327.9 126.5,327.8 127.0,327.8 127.5,328.0 128.0,327.9 128.5,327.8 129.1,328.0 129.6,327.9 130.1,328.4 130.6,328.1 131.2,328.5 131.7,328.1 132.2,328.2 132.8,328.6 133.3,328.5 133.8,328.7 134.3,328.6 134.8,329.1 135.3,329.1 135.8,329.2 136.3,329.4 136.8,329.5 137.3,329.4 137.8,329.5 138.2,329.2 138.7,329.3 139.1,329.6 139.6,329.9 140.0,329.6 140.6,329.8 141.2,329.6 141.7,329.8 142.2,330.1 142.7,330.0 143.1,330.1 143.6,329.7 144.0,329.9 144.4,329.9 144.8,330.2 145.3,329.9 145.7,330.3 146.1,330.0 146.6,330.3 147.1,330.1 147.6,330.0 148.1,330.4 148.7,330.1 149.3,330.3 150.0,330.0 150.4,330.4 150.8,330.5 151.3,330.0 151.7,330.4 152.2,330.1 152.6,330.1 153.1,330.2 153.6,330.4 154.1,330.5 154.6,330.6 155.1,330.6 155.7,330.4 156.2,330.4 156.7,330.2 157.3,330.5 157.8,330.4 158.4,330.3 158.9,330.6 159.5,330.3 160.0,330.2 160.6,330.2 161.1,330.2 161.7,330.5 162.2,330.6 162.7,330.3 163.3,330.5 163.8,330.5 164.3,330.5 164.8,330.5 165.3,330.5 165.8,330.3 166.3,330.3 166.7,330.5 167.2,330.4 167.6,330.7 168.2,330.5 168.8,330.8 169.4,330.6 170.0,330.5 170.6,330.7 171.2,330.7 171.8,330.7 172.4,331.0 172.9,330.8 173.5,331.0 174.0,331.2 174.6,331.0 175.1,331.1 175.6,331.3 176.1,331.2 176.6,331.0 177.0,331.0 177.5,331.1 178.0,331.3 178.4,331.2 178.8,331.5 179.2,331.5 179.6,331.5 180.0,331.6 180.8,332.0 181.4,331.8 182.0,331.9 182.5,332.2 182.9,332.4 183.3,332.9 183.7,333.0 184.1,333.0 184.5,333.0 185.0,333.0 185.5,333.0 186.0,333.3 186.5,333.1 187.0,332.8 187.5,332.8 188.0,332.4 188.6,332.4 189.1,332.1 189.6,331.8 190.1,331.9 190.6,331.7 191.1,331.4 191.6,331.1 192.0,331.2 192.6,330.9 193.0,330.9 193.4,330.5 193.8,330.8 194.2,330.2 194.7,330.3 195.4,330.2 196.4,330.0 196.7,330.0 197.1,330.2 197.5,330.3 197.9,330.0 198.3,329.9 198.7,330.1 199.1,329.8 199.6,329.9 200.0,330.0 200.5,329.8 201.0,329.6 201.5,329.6 202.0,329.8 202.5,329.9 203.0,329.9 203.5,329.4 204.1,329.6 204.7,329.6 205.2,329.4 205.8,329.6 206.4,329.5 207.0,329.6 207.6,329.3 208.2,329.6 208.8,329.6 209.4,329.4 210.0,329.2 210.4,329.4 210.8,329.2 211.3,329.5 211.7,329.5 212.2,329.4 212.6,329.7 213.1,329.2 213.5,329.5 214.0,329.6 214.4,329.3 214.9,329.4 215.4,329.3 215.8,329.5 216.3,329.6 216.8,329.5 217.3,329.7 217.8,329.5 218.3,329.7 218.8,329.5 219.3,329.9 219.8,329.6 220.3,329.4 220.8,329.5 221.3,329.8 221.9,329.9 222.4,329.8 222.9,329.6 223.4,330.0 224.0,329.9 224.5,329.6 225.0,329.8 225.6,329.9 226.1,329.6 226.7,329.6 227.2,329.8 227.8,330.1 228.3,330.1 228.9,329.8 229.4,330.1 230.0,330.0 230.5,330.1 230.9,329.9 231.4,330.1 231.9,330.0 232.4,330.1 232.9,329.9 233.4,329.7 233.9,329.9 234.4,329.8 235.0,329.8 235.5,329.8 236.0,329.8 236.6,329.9 237.1,329.7 237.7,329.7 238.3,329.8 238.8,329.8 239.4,329.7 239.9,329.8 240.5,329.6 241.1,329.7 241.6,329.6 242.2,329.8 242.8,329.8 243.3,329.8 243.9,329.6 244.4,329.5 245.0,329.8 245.5,329.6 246.1,329.5 246.6,329.5 247.1,329.5 247.6,329.6 248.2,329.7 248.7,329.5 249.2,329.6 249.7,329.3 250.1,329.4 250.6,329.4 251.1,329.3 251.5,329.3 252.0,329.5 252.4,329.5 252.8,329.2 253.2,329.2 253.6,329.5 254.0,329.4 254.3,329.4 254.7,329.4 255.0,329.4 256.1,329.1 257.0,329.0 257.8,329.0 258.5,328.8 259.1,329.1 259.6,328.8 260.0,328.8 260.4,328.9 260.7,328.8 260.9,328.5 261.2,328.6 261.5,328.5 261.7,329.0 262.0,329.1 263.0,331.2 263.2,334.9 263.9,347.9 264.7,347.0 265.3,337.1 266.0,333.2 266.8,331.2 267.1,331.0 267.4,330.6 267.8,330.5 268.3,330.4 269.0,330.6 270.0,330.0 270.3,330.0 270.7,330.0 271.1,330.2 271.6,330.1 272.0,329.8 272.5,329.9 273.0,329.9 273.5,329.6 274.0,329.4 274.6,329.6 275.1,329.3 275.7,329.1 276.2,329.4 276.8,329.0 277.3,328.9 277.9,328.9 278.4,328.7 279.0,328.4 279.5,328.5 280.0,328.4 280.5,328.2 281.0,328.2 281.5,328.3 282.1,328.0 282.6,328.1 283.2,327.9 283.7,327.6 284.2,327.4 284.8,327.6 285.3,327.5 285.8,327.2 286.4,327.0 286.9,327.3 287.4,327.2 287.9,326.8 288.3,326.8 288.8,326.7 289.2,326.5 289.6,326.3 290.0,326.4 290.7,326.5 291.2,326.4 291.6,326.3 291.9,326.0 292.2,326.1 292.5,326.1 292.9,326.2 293.4,326.1 294.1,326.4 295.0,326.0 295.3,326.4 295.7,326.1 296.1,326.4 296.6,326.1 297.0,326.2 297.5,326.1 298.0,326.0 298.5,326.4 299.0,326.4 299.5,326.1 300.1,326.5 300.6,326.2 301.2,326.7 301.7,325.8 302.3,326.1 302.9,326.0 303.5,326.4 304.0,326.6 304.6,326.6 305.1,326.3 305.7,326.2 306.2,326.6 306.8,325.9 307.3,326.1 307.8,326.6 308.3,326.2 308.7,326.8 309.2,325.9 309.6,326.3 310.0,326.0 310.7,325.8 311.3,325.9 311.9,325.8 312.5,326.1 313.1,326.1 313.6,326.2 314.0,325.9 314.5,326.3 314.9,326.0 315.4,326.5 315.8,325.6 316.2,326.0 316.7,325.9 317.1,325.8 317.5,326.3 318.0,325.6 318.5,326.3 319.1,325.8 319.6,325.8 320.1,326.2 320.7,326.2 321.2,326.0 321.7,325.8 322.2,326.8 322.7,326.2 323.2,326.0 323.7,326.6 324.1,326.5 324.6,326.3 325.0,326.3 325.6,326.8 326.2,326.2 326.8,326.2 327.4,326.5 327.9,325.8 328.5,325.7 328.9,325.3 329.4,325.7 329.7,325.5 330.0,325.2 332.0,322.5 334.0,324.2 335.0,325.3 336.0,329.8 337.0,333.2 338.0,329.8 339.0,324.2 340.0,319.8 341.0,316.4 342.0,319.8 343.0,324.8 344.0,325.9 345.0,328.7 346.0,325.3 347.0,314.2 347.5,331.0 348.0,310.0 348.5,331.0 349.0,309.0 349.5,331.0 350.0,309.0 350.5,331.0 351.0,312.0" fill="none" stroke="#d81018" stroke-width="1.3" stroke-linejoin="round"/>
<polyline points="42.8,343.6 43.1,343.5 43.3,343.7 43.6,343.6 43.9,343.8 44.2,343.6 44.6,343.7 44.9,343.4 45.3,343.5 45.7,343.9 46.0,343.7 46.4,343.7 46.8,343.6 47.3,343.6 47.7,343.5 48.1,343.5 48.6,343.7 49.0,343.8 49.5,343.5 50.0,343.7 50.5,343.5 51.0,343.7 51.5,343.5 52.0,343.7 52.5,343.6 53.1,343.7 53.6,343.5 54.2,343.7 54.7,343.8 55.3,343.5 55.8,343.6 56.4,343.8 57.0,343.8 57.6,343.8 58.1,343.9 58.7,343.8 59.3,343.6 59.9,343.7 60.5,343.9 61.1,343.8 61.7,343.9 62.3,343.7 62.9,343.8 63.5,344.0 64.1,344.0 64.7,343.9 65.4,343.6 66.0,343.9 66.6,343.6 67.2,344.0 67.8,344.1 68.4,343.9 69.0,343.7 69.6,344.0 70.2,343.7 70.8,344.0 71.4,343.9 72.0,343.6 72.6,344.1 73.1,343.8 73.7,344.0 74.3,344.0 74.8,343.9 75.4,344.1 76.0,343.8 76.5,344.1 77.1,343.8 77.6,343.7 78.1,343.8 78.6,343.7 79.2,343.7 79.7,344.0 80.2,343.8 80.6,343.8 81.1,343.8 81.6,343.8 82.0,344.2 82.5,344.2 82.9,344.2 83.4,344.2 83.8,343.9 84.2,344.1 84.6,343.9 84.9,344.2 85.3,344.1 85.7,344.1 86.0,343.9 87.0,343.8 87.9,344.2 88.7,344.1 89.4,344.1 90.1,344.2 90.7,343.9 91.3,344.2 91.8,344.1 92.3,344.2 92.7,344.1 93.1,344.0 93.5,344.4 93.8,344.0 94.1,344.3 94.5,344.3 94.8,344.0 95.1,344.3 95.4,344.1 95.7,344.1 96.0,344.1 96.4,344.4 96.8,344.1 97.2,344.2 97.7,344.2 98.2,344.0 98.7,344.3 99.3,344.3 100.0,344.4 100.4,344.1 100.8,344.0 101.2,344.1 101.6,344.3 102.1,344.3 102.5,344.1 102.9,344.2 103.4,344.0 103.8,344.3 104.3,344.1 104.8,344.1 105.2,344.2 105.7,343.9 106.2,344.2 106.7,344.0 107.2,344.2 107.7,343.8 108.2,343.9 108.7,344.1 109.2,344.0 109.7,343.9 110.2,344.0 110.8,343.8 111.3,343.9 111.8,343.7 112.3,344.0 112.9,343.8 113.4,344.0 113.9,343.9 114.5,343.9 115.0,343.9 115.5,343.6 116.1,343.9 116.6,343.7 117.2,344.0 117.7,343.9 118.2,343.8 118.8,343.9 119.3,343.7 119.8,343.8 120.4,343.9 120.9,343.6 121.4,343.5 121.9,343.7 122.5,343.7 123.0,343.5 123.5,343.6 124.0,343.9 124.5,343.6 125.0,343.5 125.5,343.5 126.0,343.7 126.5,343.6 127.0,343.7 127.5,343.7 128.0,343.7 128.6,343.7 129.1,343.9 129.6,343.5 130.1,344.0 130.6,343.6 131.2,343.6 131.7,344.0 132.2,343.9 132.7,343.9 133.3,343.7 133.8,344.0 134.3,343.8 134.8,344.0 135.4,343.8 135.9,344.0 136.4,344.1 136.9,343.9 137.4,344.0 138.0,343.8 138.5,344.1 139.0,344.2 139.5,343.9 140.0,344.1 140.5,344.3 141.0,344.0 141.5,344.3 142.0,344.4 142.5,344.0 143.0,344.1 143.5,344.1 144.0,344.2 144.5,344.1 145.0,344.3 145.5,344.2 145.9,344.3 146.4,344.4 146.9,344.3 147.3,344.6 147.8,344.5 148.3,344.2 148.7,344.3 149.1,344.2 149.6,344.4 150.0,344.3 150.6,344.6 151.2,344.7 151.8,344.8 152.4,344.4 152.9,344.4 153.5,344.7 154.1,344.6 154.6,344.9 155.2,344.6 155.7,344.6 156.3,344.5 156.8,344.9 157.3,344.7 157.8,344.7 158.3,344.7 158.8,344.9 159.3,344.9 159.8,344.8 160.3,344.6 160.8,344.8 161.3,345.0 161.8,344.8 162.2,344.9 162.7,344.9 163.2,344.8 163.6,344.9 164.1,344.8 164.5,344.9 165.0,345.1 165.4,344.7 165.9,344.9 166.3,345.1 166.7,345.2 167.2,344.7 167.6,345.1 168.2,345.1 168.8,345.2 169.4,345.0 170.0,344.9 170.6,345.0 171.2,345.2 171.8,345.2 172.4,345.0 172.9,345.2 173.5,345.2 174.0,345.3 174.6,344.9 175.1,345.2 175.6,345.1 176.1,345.3 176.6,345.2 177.0,345.1 177.5,345.4 178.0,345.2 178.4,345.5 178.8,345.3 179.2,345.4 179.6,345.6 180.0,345.3 180.8,345.7 181.4,345.5 182.0,346.1 182.5,345.9 182.9,346.4 183.3,346.4 183.7,346.5 184.1,346.7 184.5,346.9 185.0,346.9 185.5,346.8 186.0,347.0 186.5,346.8 187.0,347.1 187.5,346.7 188.0,346.6 188.6,346.3 189.1,346.5 189.6,346.0 190.1,346.0 190.6,346.0 191.1,345.6 191.6,345.7 192.0,345.4 192.6,345.2 193.0,345.1 193.4,345.3 193.8,345.5 194.2,345.2 194.7,345.3 195.4,345.5 196.4,345.2 196.7,345.1 197.1,345.3 197.5,345.2 197.9,345.4 198.3,345.4 198.7,345.0 199.1,345.1 199.6,345.0 200.0,344.8 200.5,344.9 201.0,345.1 201.5,344.8 202.0,344.9 202.5,344.9 203.0,344.5 203.5,344.9 204.1,344.5 204.7,344.5 205.2,344.7 205.8,344.3 206.4,344.5 207.0,344.4 207.6,344.5 208.2,344.3 208.8,344.3 209.4,344.4 210.0,344.3 210.4,344.3 210.9,344.4 211.3,344.5 211.7,344.4 212.2,344.7 212.7,344.5 213.1,344.5 213.6,344.5 214.1,344.8 214.5,344.4 215.0,344.8 215.5,344.5 216.0,345.0 216.5,344.7 217.0,344.9 217.5,345.0 218.1,344.7 218.6,344.7 219.1,345.1 219.6,345.0 220.1,345.1 220.6,345.0 221.2,345.1 221.7,345.0 222.2,345.2 222.7,345.1 223.3,345.3 223.8,345.2 224.3,345.2 224.8,345.4 225.4,345.2 225.9,345.6 226.4,345.4 226.9,345.3 227.5,345.3 228.0,345.5 228.5,345.5 229.0,345.7 229.5,345.5 230.0,345.6 230.5,345.8 231.0,345.5 231.5,345.9 232.1,345.8 232.6,345.9 233.1,345.9 233.7,345.5 234.2,345.8 234.7,345.7 235.3,345.5 235.8,345.9 236.4,345.7 236.9,345.8 237.5,345.7 238.0,345.4 238.6,345.8 239.1,345.5 239.7,345.5 240.2,345.7 240.8,345.5 241.3,345.6 241.8,345.7 242.3,345.4 242.9,345.7 243.4,345.4 243.9,345.6 244.4,345.7 244.9,345.7 245.4,345.3 245.8,345.4 246.3,345.8 246.8,345.5 247.2,345.5 247.7,345.5 248.1,345.7 248.5,345.7 248.9,345.7 249.3,345.5 249.6,345.6 250.0,345.6 250.8,345.5 251.6,345.9 252.3,345.9 252.9,345.9 253.5,346.0 254.1,345.8 254.5,346.1 255.0,345.8 255.4,346.1 255.8,346.2 256.2,346.3 256.6,346.3 256.9,346.4 257.3,346.2 257.6,346.5 258.0,346.4 258.7,346.4 259.3,346.5 259.9,346.7 260.4,346.8 260.9,346.9 261.3,346.9 261.7,346.9 262.0,347.2 262.8,349.7 263.2,352.9 263.9,362.9 264.7,361.8 265.3,354.8 266.0,351.8 266.3,351.2 266.6,351.1 267.0,350.5 267.4,350.4 267.9,349.8 268.5,349.5 269.2,349.2 270.0,348.8 270.4,348.9 270.8,348.7 271.2,348.4 271.6,348.8 272.1,348.4 272.6,348.1 273.1,348.5 273.6,348.1 274.1,348.0 274.6,347.8 275.2,347.7 275.7,347.9 276.3,347.8 276.8,347.7 277.4,347.5 277.9,347.4 278.4,347.7 279.0,347.3 279.5,347.5 280.0,347.4 280.5,346.9 281.0,347.2 281.5,346.7 282.0,347.0 282.5,347.0 283.0,346.9 283.5,346.8 284.0,346.8 284.5,346.5 285.0,346.6 285.5,346.4 286.0,346.4 286.5,346.3 287.0,346.5 287.5,346.3 288.0,346.4 288.5,346.2 289.0,346.2 289.5,346.3 290.0,346.2 290.5,346.0 291.0,345.8 291.5,346.0 292.1,345.6 292.6,345.4 293.2,345.5 293.7,345.6 294.2,345.6 294.8,345.4 295.3,345.3 295.8,345.4 296.4,345.2 296.9,345.0 297.4,344.9 297.9,345.0 298.3,344.7 298.8,344.5 299.2,344.7 299.6,344.8 300.0,344.3 300.7,344.7 301.2,344.9 301.7,344.1 302.1,344.1 302.5,344.5 302.9,344.4 303.3,345.0 303.8,345.1 304.3,344.6 305.0,345.0 305.4,344.9 305.8,344.4 306.3,345.3 306.8,344.5 307.3,344.5 307.9,344.9 308.4,344.5 309.0,345.1 309.5,345.1 310.1,345.7 310.7,345.2 311.3,345.7 311.8,345.7 312.4,345.5 312.9,345.2 313.4,345.4 313.8,345.6 314.3,345.5 314.7,345.8 315.0,345.7 315.9,345.6 316.4,345.9 316.8,346.2 317.1,345.4 317.5,345.5 318.0,345.1 318.4,345.2 318.9,345.1 319.4,345.4 319.9,345.8 320.4,345.6 321.0,345.8 321.5,345.6 322.0,345.2 322.5,345.2 323.0,344.5 323.6,344.8 324.2,344.5 324.7,344.7 325.3,344.0 325.8,344.3 326.3,344.0 326.7,344.0 327.0,343.8 328.0,342.3 329.0,346.2 330.0,343.9 331.0,346.2 332.0,342.8 333.0,340.6 334.0,342.3 335.0,345.6 336.0,341.7 337.0,342.8 338.0,340.0 339.0,343.9 340.0,338.4 341.0,335.6 342.0,345.0 343.0,339.5 344.0,347.3 345.0,341.7 346.0,346.2 347.0,339.5 348.0,350.0 349.0,336.0 350.0,352.0 351.0,334.0 352.0,350.0" fill="none" stroke="#0808c0" stroke-width="1.3" stroke-linejoin="round"/>
<polyline points="42.8,356.4 43.1,356.7 43.3,356.7 43.7,356.6 44.0,356.3 44.3,356.5 44.7,356.6 45.1,356.6 45.5,356.5 45.9,356.0 46.3,356.4 46.8,356.3 47.2,356.0 47.7,356.3 48.2,356.2 48.7,356.1 49.2,355.8 49.8,355.9 50.3,355.7 50.9,355.6 51.4,355.8 52.0,355.7 52.6,355.5 53.2,355.6 53.8,355.7 54.4,355.5 55.0,355.7 55.6,355.5 56.2,355.7 56.8,355.2 57.5,355.4 58.1,355.4 58.7,355.5 59.4,355.6 60.0,355.5 60.4,355.4 60.9,355.5 61.3,355.5 61.7,355.6 62.2,355.7 62.7,355.3 63.2,355.5 63.6,355.8 64.1,355.4 64.6,355.8 65.1,355.5 65.6,355.9 66.2,356.0 66.7,355.8 67.2,355.9 67.7,355.9 68.3,356.1 68.8,356.1 69.4,356.2 69.9,356.1 70.5,356.3 71.0,356.6 71.5,356.5 72.1,356.7 72.6,356.4 73.2,356.6 73.7,356.6 74.3,356.6 74.8,356.9 75.4,356.7 75.9,356.9 76.5,357.1 77.0,357.3 77.5,356.9 78.1,357.0 78.6,357.2 79.1,357.5 79.6,357.2 80.1,357.6 80.6,357.4 81.1,357.5 81.6,357.8 82.1,357.4 82.6,357.5 83.0,357.5 83.5,357.5 83.9,357.7 84.4,357.9 84.8,357.9 85.2,357.7 85.6,358.0 86.0,357.9 86.7,357.8 87.4,358.1 88.0,358.1 88.7,357.8 89.3,358.2 89.9,358.1 90.5,357.8 91.0,357.7 91.6,358.1 92.1,358.1 92.7,357.7 93.2,358.0 93.6,358.0 94.1,357.9 94.6,357.9 95.0,358.0 95.5,357.6 95.9,357.8 96.4,357.9 96.8,357.5 97.2,357.7 97.6,357.7 98.0,357.8 98.4,357.6 98.8,357.5 99.2,357.4 99.6,357.6 100.0,357.4 100.7,357.8 101.3,357.9 101.9,357.7 102.5,358.0 103.1,358.1 103.7,357.9 104.2,358.4 104.7,358.5 105.2,358.4 105.6,358.4 106.1,358.6 106.5,359.0 106.9,358.9 107.3,359.2 107.6,359.0 108.0,359.0 108.7,359.3 109.0,359.7 109.1,359.4 109.4,359.4 109.9,359.7 111.0,359.3 111.3,359.5 111.6,359.2 112.0,359.2 112.3,359.4 112.7,359.4 113.1,359.1 113.5,359.0 113.9,358.7 114.3,358.7 114.7,358.6 115.2,358.7 115.7,358.6 116.1,358.5 116.6,358.3 117.1,358.2 117.7,357.8 118.2,357.9 118.7,357.7 119.3,357.6 119.9,357.7 120.5,357.4 121.1,357.3 121.7,357.2 122.3,357.5 123.0,357.3 123.6,357.2 124.3,357.1 125.0,357.3 125.4,357.3 125.8,357.1 126.2,357.1 126.6,357.3 127.1,356.9 127.5,357.0 128.0,356.9 128.5,357.1 128.9,357.2 129.4,356.9 129.9,357.1 130.4,357.4 130.9,357.1 131.4,357.1 131.9,357.4 132.4,357.4 133.0,357.2 133.5,357.1 134.0,357.3 134.5,357.4 135.1,357.5 135.6,357.4 136.2,357.3 136.7,357.4 137.2,357.3 137.8,357.5 138.3,357.5 138.9,357.8 139.4,357.8 140.0,357.8 140.5,357.6 141.1,357.9 141.6,357.5 142.1,358.0 142.7,357.9 143.2,358.0 143.7,357.8 144.2,358.1 144.8,357.7 145.3,358.1 145.8,358.1 146.3,357.9 146.8,358.2 147.3,357.9 147.7,358.2 148.2,358.1 148.7,358.1 149.1,358.0 149.6,358.3 150.0,358.3 150.6,358.0 151.2,358.5 151.8,358.1 152.3,358.2 152.9,358.3 153.5,358.4 154.0,358.6 154.6,358.6 155.1,358.5 155.7,358.4 156.2,358.3 156.7,358.3 157.3,358.5 157.8,358.6 158.3,358.5 158.8,358.8 159.3,358.5 159.8,358.5 160.3,358.6 160.8,358.5 161.3,358.9 161.8,358.7 162.2,358.7 162.7,358.7 163.2,358.6 163.6,358.7 164.1,358.8 164.5,358.8 165.0,359.1 165.4,358.9 165.9,358.7 166.3,358.7 166.7,358.8 167.2,358.9 167.6,359.1 168.0,359.2 168.6,358.9 169.2,359.2 169.8,359.1 170.4,359.2 171.0,359.2 171.6,359.0 172.1,359.0 172.7,359.3 173.2,359.4 173.8,359.3 174.3,359.6 174.8,359.5 175.3,359.3 175.8,359.2 176.3,359.5 176.7,359.6 177.2,359.4 177.6,359.4 178.1,359.6 178.5,359.5 178.9,359.9 179.3,359.9 179.6,359.7 180.0,359.9 180.8,359.9 181.4,360.1 182.0,360.4 182.5,361.0 182.9,361.1 183.3,361.4 183.7,361.5 184.1,361.9 184.5,361.8 185.0,361.9 185.5,361.7 185.9,361.5 186.3,361.1 186.8,361.2 187.2,360.7 187.6,360.3 188.1,360.0 188.7,359.3 189.3,359.2 190.0,358.9 190.4,359.1 190.7,358.6 191.0,358.7 191.4,358.8 191.7,358.6 192.0,358.5 192.3,358.2 192.7,358.1 193.0,358.3 193.4,358.0 193.9,358.1 194.3,357.9 194.8,358.0 195.4,357.9 196.0,357.9 196.6,358.0 197.4,357.6 198.2,357.9 199.0,357.4 200.0,357.8 200.3,357.4 200.7,357.6 201.1,357.5 201.4,357.7 201.8,357.5 202.2,357.4 202.6,357.7 203.1,357.6 203.5,357.7 204.0,357.6 204.4,357.4 204.9,357.8 205.4,357.5 205.8,357.6 206.3,357.4 206.8,357.6 207.3,357.8 207.8,357.8 208.4,357.8 208.9,357.7 209.4,357.9 210.0,357.9 210.5,357.6 211.0,357.8 211.6,357.9 212.1,358.0 212.7,357.7 213.3,357.8 213.8,357.8 214.4,357.7 214.9,357.9 215.5,358.1 216.1,358.0 216.6,357.8 217.2,358.1 217.8,357.8 218.3,358.2 218.9,357.9 219.4,357.9 220.0,358.0 220.6,358.1 221.1,358.0 221.7,358.3 222.2,358.4 222.7,358.1 223.3,358.3 223.8,358.3 224.3,358.2 224.8,358.1 225.3,358.4 225.9,358.4 226.3,358.0 226.8,358.1 227.3,358.1 227.8,358.1 228.2,358.2 228.7,358.4 229.1,358.0 229.6,358.4 230.0,358.1 230.6,357.9 231.2,358.4 231.9,358.0 232.5,358.0 233.1,357.9 233.7,358.0 234.2,357.8 234.8,357.8 235.4,357.8 236.0,357.9 236.6,357.8 237.1,357.7 237.7,357.8 238.2,357.8 238.8,357.8 239.3,357.5 239.8,357.7 240.3,357.6 240.9,357.5 241.4,357.4 241.9,357.2 242.4,357.1 242.9,357.4 243.3,357.2 243.8,356.9 244.3,357.3 244.7,357.2 245.2,356.7 245.6,357.0 246.1,356.7 246.5,356.8 246.9,356.9 247.3,356.6 247.7,356.7 248.1,356.7 248.5,356.4 248.9,356.6 249.3,356.5 249.6,356.8 250.0,356.3 250.8,356.6 251.6,356.2 252.3,356.3 252.9,356.2 253.5,356.2 254.1,356.4 254.5,356.3 255.0,356.6 255.4,356.3 255.8,356.6 256.2,356.7 256.6,356.4 256.9,356.5 257.3,356.8 257.6,356.7 258.0,357.0 258.7,356.8 259.3,356.8 259.9,357.1 260.4,356.9 260.9,357.3 261.3,357.5 261.7,357.6 262.0,358.4 262.8,362.6 263.2,368.8 263.9,392.2 264.7,390.1 265.3,372.1 266.0,363.6 266.4,362.2 266.9,362.0 267.5,361.2 268.0,361.1 268.3,360.7 268.5,360.2 268.9,360.2 270.0,359.8 270.3,359.9 270.7,359.4 271.1,359.8 271.5,359.5 271.9,359.6 272.4,359.4 272.9,359.5 273.4,359.1 274.0,359.2 274.5,358.8 275.1,359.0 275.6,358.7 276.2,359.0 276.7,358.8 277.3,358.6 277.9,358.8 278.4,358.8 279.0,358.7 279.5,358.2 280.0,358.4 280.5,358.3 281.0,358.2 281.5,357.8 282.0,358.2 282.5,357.9 283.0,357.9 283.5,357.9 284.0,357.6 284.5,357.4 285.0,357.8 285.5,357.4 286.0,357.2 286.5,357.1 287.0,357.5 287.5,357.3 288.0,356.9 288.5,356.8 289.0,357.1 289.5,357.0 290.0,356.8 290.5,356.5 291.0,356.6 291.5,356.8 292.0,356.2 292.5,356.4 293.0,356.1 293.5,356.5 294.0,356.0 294.5,356.3 295.0,356.2 295.5,356.1 296.0,355.6 296.5,355.9 297.0,355.7 297.5,355.7 298.0,355.4 298.5,355.6 299.0,355.6 299.5,355.3 300.0,355.8 300.5,355.3 301.0,355.1 301.5,355.0 302.0,355.2 302.5,355.4 303.1,355.3 303.6,355.6 304.1,355.2 304.6,355.1 305.1,355.6 305.6,354.8 306.1,354.6 306.6,354.9 307.1,354.9 307.6,354.7 308.1,355.0 308.6,354.7 309.1,355.6 309.5,355.2 310.0,355.6 310.6,355.5 311.1,355.6 311.6,355.7 312.2,355.3 312.7,355.9 313.2,355.5 313.7,356.0 314.2,356.2 314.7,356.5 315.2,356.0 315.6,356.3 316.1,356.9 316.6,356.9 317.1,357.2 317.5,356.4 318.0,356.5 318.5,356.4 319.1,357.0 319.6,357.0 320.1,356.8 320.7,356.9 321.2,356.5 321.7,356.4 322.2,356.7 322.7,356.3 323.2,356.2 323.7,356.0 324.1,355.8 324.6,356.0 325.0,355.8 325.6,355.2 326.2,355.5 326.8,355.4 327.4,355.3 327.9,355.4 328.5,355.1 328.9,355.1 329.4,355.1 329.7,355.0 330.0,355.6 332.0,353.4 333.0,351.8 334.0,351.2 335.0,352.9 336.0,354.6 337.0,357.3 338.0,359.0 339.0,357.3 340.0,348.0 341.0,362.0 342.0,350.0 343.0,364.0 344.0,346.0 345.0,366.0 346.0,350.0 347.0,362.0 348.0,345.0 349.0,352.0 350.0,340.0 351.0,350.0" fill="none" stroke="#d414d4" stroke-width="1.3" stroke-linejoin="round"/>
<polyline points="42.8,377.4 43.1,377.3 43.4,377.6 43.7,377.4 44.0,377.4 44.4,377.4 44.8,377.3 45.3,377.2 45.7,377.0 46.2,377.3 46.7,377.3 47.2,376.9 47.7,376.9 48.2,376.8 48.8,376.6 49.3,376.9 49.9,376.8 50.5,376.5 51.0,376.4 51.6,376.6 52.2,376.5 52.8,376.3 53.4,376.2 54.0,376.0 54.6,376.3 55.2,376.2 55.7,376.2 56.3,375.7 56.9,375.9 57.4,376.0 58.0,375.9 58.5,375.7 59.0,375.5 59.5,375.4 60.0,375.7 60.5,375.4 61.1,375.7 61.6,375.6 62.1,375.5 62.7,375.7 63.2,375.6 63.7,375.5 64.3,375.2 64.8,375.4 65.3,375.3 65.8,375.2 66.4,375.6 66.9,375.4 67.4,375.1 67.9,375.2 68.4,375.2 68.9,375.4 69.4,375.2 69.9,375.3 70.4,375.5 70.9,375.2 71.3,375.5 71.8,375.3 72.3,375.6 72.8,375.7 73.2,375.4 73.7,375.5 74.1,375.3 74.6,375.5 75.0,375.7 75.6,375.7 76.1,375.7 76.7,375.6 77.2,375.8 77.7,376.1 78.2,376.0 78.7,376.2 79.2,376.5 79.6,376.8 80.1,376.8 80.6,376.8 81.0,377.1 81.5,377.1 81.9,377.5 82.4,377.3 82.9,377.5 83.4,377.7 83.9,378.0 84.4,377.7 84.9,377.8 85.4,377.9 86.0,378.0 86.5,378.0 86.9,378.1 87.4,378.3 87.9,378.1 88.4,378.1 88.9,378.0 89.4,378.1 89.9,378.2 90.4,377.9 90.9,378.1 91.4,377.7 91.9,378.0 92.5,377.7 93.0,377.7 93.5,377.5 94.1,377.3 94.6,377.2 95.1,377.5 95.6,377.2 96.1,377.3 96.6,377.2 97.1,377.1 97.6,377.0 98.1,376.9 98.6,377.0 99.1,377.2 99.5,377.1 100.0,376.9 100.6,377.3 101.1,377.2 101.6,377.1 102.1,377.3 102.6,377.4 103.1,377.9 103.6,377.9 104.1,377.9 104.6,378.1 105.0,378.2 105.5,378.4 106.0,378.6 106.4,379.0 106.9,379.2 107.4,379.3 107.9,379.5 108.4,379.5 108.9,379.4 109.4,379.4 109.9,379.6 110.4,379.7 111.0,379.8 111.4,380.0 111.9,379.8 112.3,379.7 112.7,379.6 113.2,379.9 113.6,379.7 114.0,379.4 114.5,379.2 114.9,379.6 115.3,379.1 115.8,379.3 116.2,378.9 116.7,379.0 117.1,378.7 117.6,378.9 118.1,378.5 118.6,378.3 119.1,378.2 119.6,378.4 120.1,378.4 120.7,378.1 121.2,378.1 121.8,377.8 122.4,377.7 123.0,377.5 123.7,377.9 124.3,377.4 125.0,377.7 125.4,377.5 125.8,377.4 126.2,377.5 126.6,377.8 127.1,377.4 127.5,377.4 128.0,377.6 128.5,377.6 128.9,377.6 129.4,377.4 129.9,377.8 130.4,377.4 130.9,377.4 131.4,377.5 131.9,377.6 132.4,377.6 133.0,377.7 133.5,377.8 134.0,377.9 134.5,377.7 135.1,377.5 135.6,377.9 136.2,377.5 136.7,377.7 137.2,377.6 137.8,377.9 138.3,378.0 138.9,377.7 139.4,377.8 140.0,378.1 140.5,378.0 141.1,377.8 141.6,378.1 142.1,378.2 142.7,378.0 143.2,377.9 143.7,378.2 144.2,378.0 144.8,378.0 145.3,378.0 145.8,378.1 146.3,378.0 146.8,378.2 147.3,378.3 147.7,378.3 148.2,378.3 148.7,378.5 149.1,378.2 149.6,378.3 150.0,378.6 150.6,378.6 151.2,378.7 151.7,378.6 152.3,378.5 152.9,378.7 153.4,378.6 154.0,378.4 154.5,378.6 155.0,378.5 155.5,378.9 156.0,378.7 156.6,378.8 157.1,378.9 157.6,378.7 158.0,379.1 158.5,379.2 159.0,379.2 159.5,379.3 160.0,379.1 160.5,379.0 160.9,379.4 161.4,379.4 161.9,379.2 162.3,379.3 162.8,379.2 163.3,379.6 163.7,379.4 164.2,379.6 164.7,379.4 165.1,379.4 165.6,379.5 166.1,379.6 166.6,379.7 167.0,379.4 167.5,379.6 168.0,379.5 168.5,379.7 169.0,379.6 169.5,379.5 170.1,379.4 170.6,379.3 171.1,379.6 171.6,379.5 172.1,379.2 172.6,379.0 173.1,379.0 173.6,379.4 174.2,378.8 174.7,379.2 175.2,379.0 175.7,378.9 176.2,378.9 176.7,378.7 177.2,378.7 177.7,378.4 178.2,378.8 178.7,378.3 179.2,378.3 179.7,378.5 180.2,378.4 180.7,378.4 181.2,378.3 181.6,378.4 182.1,377.9 182.6,377.8 183.1,377.9 183.6,378.1 184.1,377.7 184.5,377.9 185.0,377.9 185.5,377.6 186.0,377.7 186.5,377.9 187.0,377.7 187.4,377.5 187.9,377.5 188.3,377.4 188.8,377.7 189.2,377.5 189.6,377.5 190.0,377.2 190.4,377.4 190.8,377.2 191.3,377.4 191.7,377.1 192.1,377.3 192.6,377.2 193.0,377.0 193.5,377.1 194.0,377.2 194.5,377.0 195.0,377.2 195.5,376.7 196.1,377.1 196.7,377.0 197.3,376.9 197.9,377.0 198.6,376.6 199.3,376.7 200.0,376.9 200.4,377.0 200.8,376.7 201.2,377.0 201.6,376.9 202.0,376.6 202.5,376.6 202.9,376.6 203.4,376.8 203.9,376.7 204.4,376.7 204.9,376.8 205.4,376.6 205.9,377.0 206.4,377.0 206.9,376.8 207.4,376.8 208.0,376.7 208.5,376.9 209.1,376.8 209.6,377.1 210.2,377.1 210.7,377.0 211.3,377.0 211.9,376.7 212.4,376.7 213.0,376.8 213.6,376.7 214.2,376.9 214.7,377.2 215.3,377.1 215.9,377.2 216.5,376.8 217.0,376.8 217.6,376.7 218.2,376.9 218.7,376.8 219.3,377.0 219.8,376.9 220.4,377.1 220.9,377.1 221.5,377.1 222.0,377.0 222.5,377.2 223.0,377.2 223.6,377.2 224.1,377.1 224.6,377.1 225.0,377.0 225.5,376.9 226.0,377.1 226.4,377.2 226.9,377.0 227.3,377.3 227.7,377.4 228.2,377.4 228.5,377.3 228.9,377.2 229.3,377.0 229.7,377.1 230.0,377.3 231.0,377.5 231.8,377.0 232.6,377.0 233.3,377.2 233.9,377.2 234.5,377.3 235.0,377.1 235.4,377.5 235.9,377.3 236.2,377.6 236.6,377.3 237.0,377.3 237.3,377.2 237.6,377.6 238.0,377.4 238.3,377.5 238.7,377.1 239.1,377.3 239.5,377.4 240.0,377.4 240.5,377.4 241.0,376.9 241.5,376.9 242.1,377.2 242.6,376.9 243.2,377.0 243.7,376.5 244.2,376.3 244.8,376.6 245.3,376.2 245.8,376.2 246.4,376.0 246.9,376.0 247.4,376.1 247.9,375.9 248.3,375.8 248.8,375.4 249.2,375.6 249.6,375.1 250.0,375.2 250.7,375.2 251.3,374.7 251.8,374.5 252.3,374.4 252.7,374.1 253.1,374.1 253.5,373.9 254.0,373.5 254.4,373.8 255.0,373.3 255.5,373.6 255.9,373.3 256.5,373.2 257.0,373.1 257.6,373.5 258.2,373.4 258.7,373.2 259.3,373.4 259.9,373.5 260.4,373.5 260.9,373.4 261.3,373.5 261.7,373.8 262.0,374.2 262.9,376.6 263.1,381.1 263.9,397.2 264.7,397.0 265.3,388.0 265.9,393.2 266.6,383.0 267.2,384.0 268.0,381.2 268.4,382.5 268.8,382.2 269.3,380.4 270.0,382.4 270.4,380.5 270.8,379.4 271.3,379.8 271.8,380.1 272.3,379.2 272.9,377.5 273.4,377.4 274.0,379.1 274.5,376.9 275.0,376.9 275.5,378.3 276.0,378.2 276.5,377.9 277.0,375.2 277.5,374.3 278.0,376.3 278.5,375.5 279.0,374.4 279.5,373.0 280.0,374.1 280.5,373.2 281.0,374.1 281.5,375.2 282.0,372.5 282.5,371.9 283.0,373.7 283.5,371.7 284.0,372.0 284.5,372.6 285.0,374.3 285.5,372.1 286.0,372.2 286.5,372.8 287.0,371.9 287.5,372.8 288.0,373.9 288.5,372.8 289.0,374.4 289.5,372.5 290.0,372.2 290.5,373.8 291.0,373.2 291.5,374.5 292.0,371.7 292.5,373.6 293.0,373.1 293.5,372.0 294.0,371.0 294.5,372.3 295.0,372.6 295.5,371.6 296.0,371.4 296.5,372.0 297.0,371.6 297.5,370.9 298.0,370.0 298.5,370.7 299.0,370.8 299.5,371.7 300.0,371.8 300.5,370.1 301.0,368.9 301.5,368.1 302.0,368.9 302.5,368.7 303.0,366.7 303.5,367.7 304.0,368.4 304.5,366.2 305.0,368.0 305.5,366.6 306.0,367.8 306.5,369.0 307.0,367.6 307.5,368.8 308.0,371.7 308.5,369.5 309.0,370.9 309.5,371.9 310.0,373.1 310.5,372.8 311.0,373.8 311.6,372.8 312.1,370.5 312.6,370.5 313.1,370.0 313.6,371.0 314.1,369.4 314.6,370.7 315.0,370.8 315.6,369.0 316.2,370.6 316.7,368.6 317.1,370.0 317.6,367.9 318.0,368.9 318.6,369.8 319.1,371.7 319.5,374.1 320.0,375.0 320.5,375.2 321.0,374.6 321.5,374.2 322.0,373.5 322.5,373.2 323.1,373.5 323.6,373.8 324.0,374.3 324.6,375.0 325.0,376.4 327.0,370.8 328.0,366.3 329.0,373.0 330.0,364.0 331.0,370.8 332.0,376.3 333.0,359.6 334.0,375.2 335.0,358.5 336.0,371.9 337.0,362.9 338.0,368.5 338.7,350.0 339.5,347.0 340.2,377.0 340.9,346.0 342.0,350.0 343.0,344.0 344.0,348.0 345.0,346.0 345.6,375.0 346.3,345.0 347.3,349.0 348.0,338.0 348.6,372.0 349.3,340.0 350.0,338.0 350.6,400.0 351.1,338.0" fill="none" stroke="#108010" stroke-width="1.3" stroke-linejoin="round"/>
<polyline points="42.8,404.6 43.1,404.7 43.4,404.6 43.7,404.6 44.0,404.9 44.4,404.8 44.8,404.8 45.3,404.7 45.7,404.7 46.2,404.4 46.7,404.3 47.2,404.7 47.7,404.6 48.2,404.5 48.8,404.3 49.3,404.3 49.9,404.6 50.5,404.4 51.0,404.1 51.6,404.2 52.2,404.2 52.8,404.0 53.4,404.5 54.0,404.4 54.6,404.3 55.2,403.9 55.7,404.1 56.3,403.9 56.9,404.2 57.4,404.2 58.0,404.2 58.5,404.2 59.0,403.8 59.5,403.8 60.0,403.8 60.5,404.2 61.1,404.1 61.6,404.0 62.1,403.8 62.7,404.1 63.2,403.7 63.7,403.8 64.3,403.6 64.8,404.1 65.3,403.8 65.8,404.0 66.4,404.0 66.9,403.9 67.4,404.1 67.9,403.9 68.4,404.0 68.9,404.0 69.4,403.6 69.9,403.9 70.4,403.7 70.9,403.7 71.3,403.7 71.8,404.1 72.3,403.6 72.8,403.8 73.2,403.7 73.7,404.1 74.1,403.9 74.6,404.1 75.0,404.0 75.6,404.2 76.2,404.1 76.7,404.2 77.3,404.5 77.8,404.6 78.3,404.8 78.9,404.6 79.4,405.1 79.9,405.2 80.4,405.2 80.9,405.3 81.4,405.5 81.8,405.4 82.3,405.6 82.8,405.8 83.3,405.8 83.7,405.9 84.2,406.4 84.6,406.4 85.1,406.5 85.5,406.3 86.0,406.6 86.5,406.7 87.1,406.6 87.6,406.3 88.1,406.4 88.6,406.3 89.1,406.1 89.6,406.0 90.1,406.2 90.6,406.0 91.0,406.0 91.5,405.5 92.0,405.5 92.5,405.5 93.0,405.2 93.5,405.2 94.0,405.3 94.5,405.2 95.0,405.4 95.5,405.2 96.0,405.3 96.5,405.3 97.0,405.4 97.5,405.2 98.1,405.1 98.6,405.6 99.1,405.5 99.7,405.3 100.2,405.3 100.7,405.4 101.2,405.7 101.8,405.5 102.3,405.6 102.8,405.9 103.2,405.8 103.7,406.0 104.2,406.2 104.6,406.2 105.0,406.3 105.6,406.7 106.2,407.0 106.7,407.5 107.2,408.0 107.6,408.5 108.1,408.9 108.5,409.2 108.9,410.1 109.4,410.4 109.9,410.6 110.4,410.5 111.0,410.7 111.4,411.0 111.9,410.6 112.4,410.4 112.9,410.5 113.4,410.3 113.9,409.6 114.5,409.5 115.0,409.2 115.6,408.7 116.1,408.4 116.7,408.2 117.2,407.9 117.7,407.6 118.2,407.3 118.7,406.9 119.2,406.5 119.6,406.2 120.0,406.5 120.6,406.3 121.1,406.2 121.5,405.7 121.8,406.0 122.1,405.7 122.5,405.8 122.9,405.7 123.4,406.0 124.1,406.0 125.0,406.0 125.3,405.7 125.7,406.0 126.1,405.6 126.5,405.7 126.9,405.7 127.3,405.5 127.7,405.5 128.2,405.3 128.6,405.6 129.1,405.2 129.6,405.2 130.0,405.2 130.5,405.3 131.0,405.3 131.6,405.2 132.1,405.3 132.6,405.2 133.2,404.9 133.7,405.0 134.3,404.8 134.8,404.8 135.4,404.7 135.9,404.7 136.5,404.8 137.1,405.0 137.7,404.9 138.3,404.6 138.8,404.7 139.4,404.9 140.0,404.9 140.4,404.7 140.9,404.8 141.4,405.0 141.9,405.1 142.3,404.9 142.8,405.2 143.4,405.0 143.9,405.3 144.4,405.3 144.9,405.2 145.5,405.6 146.0,405.4 146.6,405.5 147.1,405.6 147.7,405.8 148.2,406.0 148.8,405.9 149.3,405.9 149.9,406.0 150.4,406.1 151.0,406.3 151.5,406.4 152.1,406.4 152.6,406.2 153.2,406.5 153.7,406.5 154.2,406.5 154.7,406.8 155.2,406.6 155.7,407.0 156.2,406.9 156.7,407.0 157.2,407.2 157.6,407.3 158.0,407.5 158.5,407.6 158.9,407.6 159.3,407.4 159.6,407.7 160.0,407.7 160.8,408.1 161.5,408.1 162.1,408.4 162.6,408.5 163.1,409.0 163.5,409.3 163.8,409.5 164.2,409.7 164.5,410.2 164.9,410.2 165.2,410.5 165.6,410.9 166.1,411.0 166.7,411.2 167.3,411.3 168.0,411.2 168.4,411.1 168.8,411.0 169.2,411.3 169.6,411.4 170.1,411.0 170.6,411.0 171.0,410.9 171.5,411.0 172.0,410.8 172.6,410.8 173.1,410.3 173.6,410.3 174.2,410.2 174.7,410.1 175.3,410.0 175.8,409.9 176.4,410.0 176.9,409.6 177.5,409.5 178.0,409.6 178.6,409.3 179.2,409.1 179.7,409.1 180.2,408.7 180.8,408.4 181.3,408.7 181.8,408.4 182.3,408.3 182.8,407.9 183.3,408.2 183.7,407.9 184.2,407.9 184.6,407.7 185.0,407.9 185.7,407.5 186.3,407.4 186.8,407.7 187.4,407.3 187.9,407.3 188.4,407.3 188.8,407.6 189.3,407.1 189.7,407.2 190.1,407.4 190.5,407.1 191.0,407.2 191.4,407.4 191.9,407.4 192.3,407.4 192.8,407.0 193.3,407.3 193.8,407.0 194.4,407.2 195.0,406.9 195.4,407.0 195.8,406.7 196.3,406.5 196.7,406.4 197.2,406.5 197.6,406.1 198.1,406.1 198.5,406.3 199.0,406.1 199.4,406.1 199.9,405.6 200.4,405.7 200.9,405.5 201.4,405.2 201.9,405.2 202.4,405.4 202.9,405.1 203.4,404.9 203.9,404.8 204.4,404.8 205.0,404.7 205.5,404.4 206.1,404.0 206.6,404.3 207.2,403.8 207.7,403.7 208.3,403.5 208.8,403.6 209.4,403.5 210.0,403.3 210.4,403.2 210.9,402.9 211.4,403.1 211.8,402.9 212.3,402.7 212.8,402.9 213.3,402.9 213.8,402.8 214.4,402.7 214.9,402.1 215.4,402.2 215.9,402.1 216.5,401.9 217.0,402.1 217.6,402.0 218.1,401.6 218.7,401.6 219.2,401.8 219.8,401.6 220.3,401.3 220.9,401.0 221.4,401.1 221.9,401.1 222.5,401.1 223.0,400.7 223.5,400.7 224.1,400.9 224.6,400.4 225.1,400.6 225.6,400.2 226.1,400.5 226.6,400.2 227.0,400.4 227.5,400.0 227.9,400.2 228.4,399.8 228.8,399.7 229.2,399.6 229.6,399.5 230.0,399.6 230.7,399.8 231.4,399.4 232.0,399.5 232.6,399.1 233.2,399.3 233.7,399.2 234.2,398.9 234.7,399.1 235.2,399.0 235.6,398.9 236.1,399.1 236.5,399.0 236.9,398.7 237.3,398.6 237.7,398.6 238.2,398.6 238.6,398.8 239.0,398.9 239.5,398.9 240.0,398.8 240.5,398.4 241.0,398.6 241.5,398.6 242.0,398.4 242.5,398.6 242.9,398.4 243.4,398.1 243.9,398.1 244.4,398.0 244.9,398.2 245.4,398.1 245.9,398.2 246.4,397.8 246.9,397.7 247.4,398.2 247.9,397.8 248.4,397.8 248.9,398.0 249.5,397.6 250.0,397.9 250.5,398.0 251.0,397.8 251.5,397.8 252.0,397.5 252.5,397.8 253.1,397.8 253.7,397.8 254.2,397.7 254.8,397.5 255.4,397.5 256.0,397.7 256.5,397.5 257.1,397.5 257.6,397.5 258.2,397.8 258.7,397.7 259.2,397.6 259.7,397.9 260.1,397.8 260.6,397.6 261.0,397.8 261.4,398.0 261.7,397.8 262.0,397.9 263.3,398.4 263.5,399.2 263.6,400.1 264.4,405.3 264.8,404.3 265.4,401.9 265.7,401.2 265.9,400.6 266.2,399.4 266.9,399.0 268.0,398.5 268.3,398.6 268.7,398.7 269.1,398.4 269.5,398.5 269.9,398.3 270.4,398.3 270.9,398.4 271.4,398.4 271.9,398.3 272.4,398.6 273.0,398.5 273.5,398.5 274.1,398.4 274.7,398.8 275.2,398.8 275.8,398.9 276.4,398.6 276.9,398.6 277.5,398.9 278.0,398.6 278.5,399.1 279.0,399.0 279.5,398.9 280.0,399.0 280.5,399.1 281.1,398.9 281.6,399.1 282.1,399.3 282.6,399.3 283.1,399.3 283.6,399.1 284.1,399.2 284.6,399.3 285.1,399.3 285.6,399.6 286.1,399.6 286.6,399.9 287.1,399.7 287.5,400.0 288.0,399.8 288.5,399.9 289.0,399.8 289.5,399.9 290.0,400.2 290.5,400.0 291.0,399.8 291.5,400.1 292.0,400.0 292.5,400.3 293.0,400.3 293.5,400.3 294.0,400.6 294.5,400.5 295.0,400.2 295.5,400.2 296.0,400.6 296.5,400.6 297.0,400.6 297.5,400.6 298.0,400.4 298.5,400.6 299.0,400.8 299.5,400.7 300.0,400.1 300.5,400.2 301.0,401.0 301.5,400.6 302.0,400.1 302.5,400.6 303.1,400.8 303.6,400.6 304.1,400.3 304.6,400.4 305.1,399.6 305.6,399.9 306.1,400.2 306.6,399.7 307.1,399.4 307.6,400.1 308.1,399.8 308.6,399.1 309.1,399.1 309.5,399.6 310.0,400.0 310.6,399.6 311.1,399.9 311.7,399.2 312.2,399.7 312.8,399.3 313.3,399.6 313.9,399.5 314.4,399.8 314.9,399.5 315.4,400.2 315.9,400.2 316.3,400.5 316.8,400.5 317.2,399.8 317.6,400.6 318.0,400.2 318.7,400.5 319.3,399.9 319.8,399.3 320.2,399.7 320.7,398.9 321.1,399.5 321.5,398.8 322.0,399.0 322.5,398.5 323.1,398.2 323.7,398.4 324.2,398.4 324.8,398.1 325.3,397.9 325.7,398.0 326.0,398.2 330.0,396.7 332.0,395.2 334.0,393.4 335.0,394.5 336.0,398.0 337.0,400.0 338.0,398.6 339.0,396.5 340.0,399.0 341.0,410.0 342.0,403.5 343.0,410.8 344.0,404.0 345.0,399.6 346.0,408.5 347.0,416.0 348.0,410.8 349.0,422.0 350.0,428.8 351.0,424.3 352.0,460.0 352.5,470.0" fill="none" stroke="#000080" stroke-width="1.3" stroke-linejoin="round"/>
<polyline points="42.8,453.4 43.1,453.3 43.4,453.4 43.7,453.4 44.0,453.0 44.4,453.1 44.8,453.3 45.3,452.9 45.7,453.1 46.2,452.7 46.7,452.5 47.2,452.6 47.7,452.7 48.2,452.6 48.8,452.1 49.3,452.3 49.9,452.2 50.5,452.0 51.0,452.0 51.6,451.8 52.2,451.5 52.8,451.7 53.4,451.3 54.0,451.2 54.6,451.4 55.2,451.1 55.7,451.0 56.3,451.0 56.9,450.8 57.4,450.6 58.0,450.6 58.5,450.2 59.0,450.3 59.5,450.1 60.0,450.4 60.5,450.3 61.1,450.1 61.6,449.7 62.2,450.0 62.7,449.6 63.3,449.7 63.8,449.5 64.4,449.4 64.9,449.3 65.5,449.0 66.0,449.2 66.5,448.9 67.1,448.9 67.6,448.8 68.1,448.4 68.7,448.4 69.2,448.3 69.7,448.0 70.2,448.3 70.7,448.2 71.2,448.0 71.6,447.9 72.1,448.0 72.5,447.5 73.0,447.6 73.4,447.7 73.8,447.6 74.2,447.6 74.6,447.4 75.0,447.4 75.8,447.6 76.4,447.4 77.1,447.7 77.7,447.8 78.2,447.9 78.7,447.7 79.2,448.0 79.6,447.9 80.0,448.2 80.5,448.2 80.8,448.6 81.2,448.9 81.6,449.0 82.0,448.9 82.6,449.2 83.2,449.9 83.7,449.8 84.2,450.6 84.6,451.0 85.1,450.8 85.5,451.4 86.0,451.3 86.5,451.0 87.0,450.6 87.5,450.2 87.9,449.7 88.4,449.2 88.9,448.7 89.5,447.9 90.0,447.3 90.5,447.3 90.9,447.0 91.4,446.7 91.9,446.2 92.4,446.0 93.0,446.1 93.5,445.7 94.0,445.5 94.5,445.5 95.0,444.9 95.5,444.9 96.0,444.4 96.5,444.3 97.0,444.1 97.4,443.5 97.9,443.6 98.4,443.5 98.9,443.4 99.5,443.4 100.0,443.7 100.5,443.9 101.0,444.2 101.5,444.9 102.0,445.4 102.5,446.0 103.0,446.7 103.5,447.2 104.0,448.0 104.5,448.8 105.0,449.8 105.5,450.5 106.0,450.9 106.5,452.1 107.0,452.7 107.5,453.8 108.0,455.0 108.4,456.0 108.9,457.4 109.4,458.0 109.9,458.7 110.4,459.4 111.0,459.4 111.4,459.4 111.9,459.0 112.4,458.6 112.9,458.3 113.4,457.4 113.9,456.8 114.4,456.0 114.9,455.0 115.4,454.2 115.9,453.6 116.5,453.0 117.0,452.1 117.5,451.3 118.0,451.2 118.5,450.4 118.9,450.4 119.4,449.6 119.8,449.5 120.2,449.0 120.6,448.7 121.0,448.5 121.4,448.4 121.9,448.0 122.4,447.7 123.0,447.5 123.6,447.3 124.3,446.9 125.0,447.0 125.4,446.5 125.8,446.4 126.2,446.5 126.6,446.2 127.0,446.3 127.5,445.8 128.0,446.0 128.4,445.7 128.9,445.9 129.4,445.4 129.9,445.4 130.4,445.2 130.9,445.2 131.5,444.9 132.0,445.0 132.5,444.8 133.1,444.8 133.6,444.5 134.2,444.5 134.7,444.4 135.2,444.4 135.8,444.3 136.3,444.2 136.9,443.9 137.4,443.9 137.9,443.9 138.5,443.9 139.0,443.8 139.5,444.1 140.0,443.9 140.5,444.2 141.0,443.9 141.5,444.0 142.1,444.0 142.6,444.0 143.1,444.4 143.7,444.4 144.2,444.3 144.8,444.7 145.3,444.7 145.8,444.7 146.4,444.9 146.9,445.1 147.5,445.1 148.0,445.1 148.5,445.3 149.1,445.8 149.6,445.6 150.1,445.9 150.6,445.8 151.1,446.3 151.6,446.5 152.0,446.4 152.5,446.5 153.0,446.8 153.4,446.8 153.8,446.9 154.2,447.0 154.6,447.5 155.0,447.5 155.8,448.0 156.4,448.3 157.1,448.6 157.6,449.0 158.2,449.3 158.6,449.2 159.1,449.6 159.5,450.4 159.9,450.7 160.3,450.9 160.8,451.3 161.2,451.6 161.6,452.0 162.0,452.2 162.6,453.0 163.1,453.6 163.7,454.3 164.2,455.5 164.7,456.2 165.2,457.1 165.7,457.5 166.2,458.2 166.8,458.4 167.4,459.0 167.8,458.7 168.3,458.9 168.7,458.8 169.2,458.6 169.7,458.3 170.2,458.3 170.7,458.0 171.2,457.9 171.7,457.3 172.2,456.9 172.7,456.6 173.3,456.5 173.8,455.8 174.4,455.6 175.0,455.0 175.4,454.7 175.9,454.7 176.4,454.3 176.8,453.7 177.3,453.5 177.8,453.4 178.3,452.7 178.8,452.4 179.3,451.9 179.8,451.5 180.3,450.9 180.8,450.9 181.3,450.3 181.9,449.8 182.4,449.3 182.9,448.9 183.4,448.8 183.9,448.4 184.5,447.8 185.0,447.6 185.5,447.2 186.0,446.7 186.5,446.3 187.0,446.3 187.6,445.7 188.1,445.6 188.7,445.0 189.2,444.7 189.8,444.4 190.3,444.3 190.9,444.0 191.4,443.9 192.0,443.4 192.5,443.1 193.0,442.6 193.5,442.8 194.0,442.3 194.4,442.2 194.8,441.6 195.3,441.8 195.6,441.4 196.0,441.1 196.8,440.8 197.4,440.4 197.7,440.6 198.1,440.4 198.4,440.7 198.7,440.3 199.3,440.3 200.0,439.9 200.4,439.7 200.8,439.5 201.2,438.8 201.7,438.7 202.2,438.1 202.7,438.0 203.3,437.5 203.8,437.0 204.4,436.5 204.9,435.9 205.5,435.7 206.1,435.3 206.6,434.9 207.2,434.1 207.7,433.9 208.2,433.5 208.7,433.2 209.2,432.8 209.6,432.3 210.0,432.0 210.7,431.8 211.2,431.5 211.6,431.2 211.9,431.3 212.2,430.8 212.5,430.7 212.9,430.8 213.4,430.5 214.1,430.6 215.0,429.8 215.3,430.0 215.7,429.5 216.1,429.3 216.5,429.4 216.9,429.2 217.3,428.8 217.7,428.7 218.2,428.4 218.6,428.4 219.1,427.9 219.6,427.7 220.0,427.4 220.5,427.1 221.0,427.0 221.6,426.4 222.1,426.4 222.6,426.3 223.2,425.9 223.7,425.6 224.3,425.2 224.8,424.8 225.4,424.5 225.9,424.5 226.5,424.4 227.1,424.1 227.7,423.6 228.3,423.6 228.8,423.4 229.4,423.0 230.0,423.0 230.4,422.5 230.9,422.4 231.4,422.3 231.8,422.3 232.3,422.0 232.8,421.8 233.3,421.9 233.8,421.5 234.3,421.4 234.8,421.1 235.4,421.1 235.9,421.0 236.4,420.7 236.9,420.7 237.5,420.5 238.0,420.1 238.6,420.4 239.1,420.0 239.6,419.9 240.2,420.0 240.7,419.5 241.3,419.3 241.8,419.2 242.3,419.1 242.9,419.3 243.4,419.0 243.9,418.6 244.4,418.6 244.9,418.6 245.4,418.3 245.9,418.2 246.4,418.4 246.9,418.1 247.4,417.8 247.8,417.9 248.3,417.5 248.7,417.6 249.2,417.6 249.6,417.2 250.0,417.3 250.7,417.0 251.3,417.1 252.0,416.8 252.6,416.8 253.2,416.5 253.8,416.2 254.4,416.0 255.0,416.1 255.5,416.0 256.1,415.5 256.6,415.5 257.2,415.4 257.7,415.3 258.1,415.4 258.6,415.1 259.1,415.1 259.5,415.1 259.9,414.7 260.3,414.8 260.7,414.6 261.1,414.6 261.4,414.6 261.7,414.6 262.0,414.3 263.3,414.7 263.5,414.8 263.6,415.9 264.4,423.0 264.8,421.2 265.4,417.9 265.7,417.7 265.9,416.8 266.2,417.0 266.9,416.3 268.0,415.7 268.3,415.9 268.7,415.4 269.1,415.6 269.5,415.0 269.9,414.9 270.4,414.9 270.9,414.5 271.4,414.5 271.9,414.3 272.4,414.3 273.0,413.9 273.5,414.0 274.1,413.7 274.7,413.2 275.2,413.4 275.8,413.2 276.4,412.8 276.9,412.6 277.5,412.3 278.0,412.2 278.5,412.0 279.0,411.8 279.5,411.9 280.0,411.6 280.6,411.7 281.1,411.5 281.7,411.5 282.2,411.1 282.8,411.3 283.3,411.1 283.8,411.1 284.4,410.9 284.9,411.0 285.4,410.8 286.0,410.9 286.5,410.8 286.9,410.6 287.4,410.6 287.9,410.8 288.4,410.4 288.8,410.6 289.2,410.5 289.6,410.6 290.0,410.3 290.7,410.2 291.3,410.1 291.9,410.1 292.4,409.6 292.8,409.7 293.2,409.4 293.7,409.4 294.1,409.1 294.5,408.9 295.0,408.8 295.5,408.9 295.9,408.5 296.3,408.5 296.8,408.3 297.2,407.9 297.6,407.8 298.1,407.3 298.7,407.5 299.3,407.1 300.0,406.4 300.4,406.7 300.8,406.5 301.2,406.5 301.7,406.0 302.2,406.4 302.7,405.9 303.2,405.2 303.7,405.8 304.3,405.6 304.8,404.9 305.4,405.1 305.9,405.0 306.4,404.9 307.0,403.9 307.5,404.4 308.0,403.7 308.6,404.1 309.1,403.8 309.5,403.4 310.0,403.7 310.6,403.4 311.1,403.5 311.7,403.3 312.2,402.7 312.8,402.8 313.3,402.6 313.9,402.2 314.4,402.1 314.9,402.0 315.4,401.6 315.9,401.5 316.3,402.0 316.8,401.9 317.2,401.6 317.6,401.5 318.0,401.2 318.7,401.0 319.3,400.9 319.8,400.0 320.2,400.2 320.7,400.5 321.1,399.5 321.5,399.6 322.0,399.1 322.5,399.1 323.0,399.6 323.5,398.8 324.0,399.5 324.5,399.5 325.0,399.5 325.5,398.8 326.0,399.4 326.5,398.7 327.1,398.7 327.7,399.0 328.2,398.4 328.8,398.4 329.3,397.6 329.7,397.4 330.0,397.6 332.0,396.1 334.0,393.9 335.0,395.0 336.0,398.9 337.0,401.2 338.0,399.5 339.0,397.3 340.0,400.1 341.0,411.2 342.0,404.5 343.0,411.8 344.0,405.1 345.0,400.6 346.0,409.5 347.0,417.4 348.0,411.8 349.0,423.0 350.0,429.7 351.0,425.2 351.5,445.0 352.0,470.0 353.0,500.4 353.8,470.0 354.5,430.0 355.0,420.0" fill="none" stroke="#7c10e0" stroke-width="1.3" stroke-linejoin="round"/>
<polygon points="347.2,309.4 351,309.4 351,331 347.2,331" fill="#e81010"/>
<polygon points="351,332 354.6,332 354.6,406 352.2,406" fill="#e030c8"/>
<line x1="352" y1="291.6" x2="352" y2="338" stroke="#a81030" stroke-width="1.8"/>

<polygon points="351.3,425 355.3,406 355.3,500 353,500.4" fill="#7010d8"/>
</g>
<rect x="43.4" y="5.5" width="312.8" height="230.5" fill="none" stroke="#000" stroke-width="1.3"/>
<line x1="43.2" y1="236.0" x2="43.2" y2="232.0" stroke="#000" stroke-width="1"/>
<line x1="43.2" y1="5.5" x2="43.2" y2="9.5" stroke="#000" stroke-width="1"/>
<line x1="95.9" y1="236.0" x2="95.9" y2="232.0" stroke="#000" stroke-width="1"/>
<line x1="95.9" y1="5.5" x2="95.9" y2="9.5" stroke="#000" stroke-width="1"/>
<line x1="148.6" y1="236.0" x2="148.6" y2="232.0" stroke="#000" stroke-width="1"/>
<line x1="148.6" y1="5.5" x2="148.6" y2="9.5" stroke="#000" stroke-width="1"/>
<line x1="201.3" y1="236.0" x2="201.3" y2="232.0" stroke="#000" stroke-width="1"/>
<line x1="201.3" y1="5.5" x2="201.3" y2="9.5" stroke="#000" stroke-width="1"/>
<line x1="254.0" y1="236.0" x2="254.0" y2="232.0" stroke="#000" stroke-width="1"/>
<line x1="254.0" y1="5.5" x2="254.0" y2="9.5" stroke="#000" stroke-width="1"/>
<line x1="306.7" y1="236.0" x2="306.7" y2="232.0" stroke="#000" stroke-width="1"/>
<line x1="306.7" y1="5.5" x2="306.7" y2="9.5" stroke="#000" stroke-width="1"/>
<line x1="69.5" y1="236.0" x2="69.5" y2="233.5" stroke="#000" stroke-width="1"/>
<line x1="69.5" y1="5.5" x2="69.5" y2="8.0" stroke="#000" stroke-width="1"/>
<line x1="122.2" y1="236.0" x2="122.2" y2="233.5" stroke="#000" stroke-width="1"/>
<line x1="122.2" y1="5.5" x2="122.2" y2="8.0" stroke="#000" stroke-width="1"/>
<line x1="174.9" y1="236.0" x2="174.9" y2="233.5" stroke="#000" stroke-width="1"/>
<line x1="174.9" y1="5.5" x2="174.9" y2="8.0" stroke="#000" stroke-width="1"/>
<line x1="227.6" y1="236.0" x2="227.6" y2="233.5" stroke="#000" stroke-width="1"/>
<line x1="227.6" y1="5.5" x2="227.6" y2="8.0" stroke="#000" stroke-width="1"/>
<line x1="280.3" y1="236.0" x2="280.3" y2="233.5" stroke="#000" stroke-width="1"/>
<line x1="280.3" y1="5.5" x2="280.3" y2="8.0" stroke="#000" stroke-width="1"/>
<line x1="333.0" y1="236.0" x2="333.0" y2="233.5" stroke="#000" stroke-width="1"/>
<line x1="333.0" y1="5.5" x2="333.0" y2="8.0" stroke="#000" stroke-width="1"/>
<line x1="38.4" y1="5.5" x2="43.4" y2="5.5" stroke="#000" stroke-width="1"/>
<line x1="38.4" y1="63.8" x2="43.4" y2="63.8" stroke="#000" stroke-width="1"/>
<line x1="38.4" y1="122.1" x2="43.4" y2="122.1" stroke="#000" stroke-width="1"/>
<line x1="38.4" y1="180.4" x2="43.4" y2="180.4" stroke="#000" stroke-width="1"/>
<line x1="40.4" y1="34.6" x2="43.4" y2="34.6" stroke="#000" stroke-width="1"/>
<line x1="40.4" y1="93.0" x2="43.4" y2="93.0" stroke="#000" stroke-width="1"/>
<line x1="40.4" y1="151.2" x2="43.4" y2="151.2" stroke="#000" stroke-width="1"/>
<line x1="40.4" y1="209.5" x2="43.4" y2="209.5" stroke="#000" stroke-width="1"/>
<text x="43.2" y="250.6" font-size="12" text-anchor="middle" font-family="Liberation Sans, sans-serif">6000</text>
<text x="95.9" y="250.6" font-size="12" text-anchor="middle" font-family="Liberation Sans, sans-serif">5000</text>
<text x="148.6" y="250.6" font-size="12" text-anchor="middle" font-family="Liberation Sans, sans-serif">4000</text>
<text x="201.3" y="250.6" font-size="12" text-anchor="middle" font-family="Liberation Sans, sans-serif">3000</text>
<text x="254.0" y="250.6" font-size="12" text-anchor="middle" font-family="Liberation Sans, sans-serif">2000</text>
<text x="306.7" y="250.6" font-size="12" text-anchor="middle" font-family="Liberation Sans, sans-serif">1000</text>
<text x="35.4" y="9.6" font-size="12" text-anchor="end" font-family="Liberation Sans, sans-serif">1,0</text>
<text x="35.4" y="67.9" font-size="12" text-anchor="end" font-family="Liberation Sans, sans-serif">0,8</text>
<text x="35.4" y="126.2" font-size="12" text-anchor="end" font-family="Liberation Sans, sans-serif">0,6</text>
<text x="35.4" y="184.5" font-size="12" text-anchor="end" font-family="Liberation Sans, sans-serif">0,4</text>
<rect x="43.2" y="283.8" width="312.2" height="230.40000000000003" fill="none" stroke="#000" stroke-width="1.3"/>
<line x1="42.8" y1="514.2" x2="42.8" y2="510.20000000000005" stroke="#000" stroke-width="1"/>
<line x1="42.8" y1="283.8" x2="42.8" y2="287.8" stroke="#000" stroke-width="1"/>
<line x1="122.8" y1="514.2" x2="122.8" y2="510.20000000000005" stroke="#000" stroke-width="1"/>
<line x1="122.8" y1="283.8" x2="122.8" y2="287.8" stroke="#000" stroke-width="1"/>
<line x1="202.8" y1="514.2" x2="202.8" y2="510.20000000000005" stroke="#000" stroke-width="1"/>
<line x1="202.8" y1="283.8" x2="202.8" y2="287.8" stroke="#000" stroke-width="1"/>
<line x1="282.8" y1="514.2" x2="282.8" y2="510.20000000000005" stroke="#000" stroke-width="1"/>
<line x1="282.8" y1="283.8" x2="282.8" y2="287.8" stroke="#000" stroke-width="1"/>
<line x1="346.8" y1="514.2" x2="346.8" y2="511.70000000000005" stroke="#000" stroke-width="1"/>
<line x1="346.8" y1="283.8" x2="346.8" y2="286.3" stroke="#000" stroke-width="1"/>
<line x1="330.8" y1="514.2" x2="330.8" y2="511.70000000000005" stroke="#000" stroke-width="1"/>
<line x1="330.8" y1="283.8" x2="330.8" y2="286.3" stroke="#000" stroke-width="1"/>
<line x1="314.8" y1="514.2" x2="314.8" y2="511.70000000000005" stroke="#000" stroke-width="1"/>
<line x1="314.8" y1="283.8" x2="314.8" y2="286.3" stroke="#000" stroke-width="1"/>
<line x1="298.8" y1="514.2" x2="298.8" y2="511.70000000000005" stroke="#000" stroke-width="1"/>
<line x1="298.8" y1="283.8" x2="298.8" y2="286.3" stroke="#000" stroke-width="1"/>
<line x1="266.8" y1="514.2" x2="266.8" y2="511.70000000000005" stroke="#000" stroke-width="1"/>
<line x1="266.8" y1="283.8" x2="266.8" y2="286.3" stroke="#000" stroke-width="1"/>
<line x1="250.8" y1="514.2" x2="250.8" y2="511.70000000000005" stroke="#000" stroke-width="1"/>
<line x1="250.8" y1="283.8" x2="250.8" y2="286.3" stroke="#000" stroke-width="1"/>
<line x1="234.8" y1="514.2" x2="234.8" y2="511.70000000000005" stroke="#000" stroke-width="1"/>
<line x1="234.8" y1="283.8" x2="234.8" y2="286.3" stroke="#000" stroke-width="1"/>
<line x1="218.8" y1="514.2" x2="218.8" y2="511.70000000000005" stroke="#000" stroke-width="1"/>
<line x1="218.8" y1="283.8" x2="218.8" y2="286.3" stroke="#000" stroke-width="1"/>
<line x1="186.8" y1="514.2" x2="186.8" y2="511.70000000000005" stroke="#000" stroke-width="1"/>
<line x1="186.8" y1="283.8" x2="186.8" y2="286.3" stroke="#000" stroke-width="1"/>
<line x1="170.8" y1="514.2" x2="170.8" y2="511.70000000000005" stroke="#000" stroke-width="1"/>
<line x1="170.8" y1="283.8" x2="170.8" y2="286.3" stroke="#000" stroke-width="1"/>
<line x1="154.8" y1="514.2" x2="154.8" y2="511.70000000000005" stroke="#000" stroke-width="1"/>
<line x1="154.8" y1="283.8" x2="154.8" y2="286.3" stroke="#000" stroke-width="1"/>
<line x1="138.8" y1="514.2" x2="138.8" y2="511.70000000000005" stroke="#000" stroke-width="1"/>
<line x1="138.8" y1="283.8" x2="138.8" y2="286.3" stroke="#000" stroke-width="1"/>
<line x1="106.8" y1="514.2" x2="106.8" y2="511.70000000000005" stroke="#000" stroke-width="1"/>
<line x1="106.8" y1="283.8" x2="106.8" y2="286.3" stroke="#000" stroke-width="1"/>
<line x1="90.8" y1="514.2" x2="90.8" y2="511.70000000000005" stroke="#000" stroke-width="1"/>
<line x1="90.8" y1="283.8" x2="90.8" y2="286.3" stroke="#000" stroke-width="1"/>
<line x1="74.8" y1="514.2" x2="74.8" y2="511.70000000000005" stroke="#000" stroke-width="1"/>
<line x1="74.8" y1="283.8" x2="74.8" y2="286.3" stroke="#000" stroke-width="1"/>
<line x1="58.8" y1="514.2" x2="58.8" y2="511.70000000000005" stroke="#000" stroke-width="1"/>
<line x1="58.8" y1="283.8" x2="58.8" y2="286.3" stroke="#000" stroke-width="1"/>
<line x1="38.2" y1="283.8" x2="43.2" y2="283.8" stroke="#000" stroke-width="1"/>
<line x1="38.2" y1="342.3" x2="43.2" y2="342.3" stroke="#000" stroke-width="1"/>
<line x1="38.2" y1="400.8" x2="43.2" y2="400.8" stroke="#000" stroke-width="1"/>
<line x1="38.2" y1="459.3" x2="43.2" y2="459.3" stroke="#000" stroke-width="1"/>
<line x1="40.2" y1="313.1" x2="43.2" y2="313.1" stroke="#000" stroke-width="1"/>
<line x1="40.2" y1="371.6" x2="43.2" y2="371.6" stroke="#000" stroke-width="1"/>
<line x1="40.2" y1="430.1" x2="43.2" y2="430.1" stroke="#000" stroke-width="1"/>
<line x1="40.2" y1="488.6" x2="43.2" y2="488.6" stroke="#000" stroke-width="1"/>
<text x="42.8" y="529.2" font-size="12" text-anchor="middle" font-family="Liberation Sans, sans-serif">2000</text>
<text x="122.8" y="529.2" font-size="12" text-anchor="middle" font-family="Liberation Sans, sans-serif">1500</text>
<text x="202.8" y="529.2" font-size="12" text-anchor="middle" font-family="Liberation Sans, sans-serif">1000</text>
<text x="282.8" y="529.2" font-size="12" text-anchor="middle" font-family="Liberation Sans, sans-serif">500</text>
<text x="35.4" y="287.9" font-size="12" text-anchor="end" font-family="Liberation Sans, sans-serif">1,0</text>
<text x="35.4" y="346.4" font-size="12" text-anchor="end" font-family="Liberation Sans, sans-serif">0,8</text>
<text x="35.4" y="404.9" font-size="12" text-anchor="end" font-family="Liberation Sans, sans-serif">0,6</text>
<text x="35.4" y="463.4" font-size="12" text-anchor="end" font-family="Liberation Sans, sans-serif">0,4</text>
<text x="199.5" y="267.6" font-size="15.2" letter-spacing="0.3" font-weight="bold" text-anchor="middle" font-family="Liberation Sans, sans-serif">Wavenumber (cm<tspan font-size="9.5" dy="-6.5" letter-spacing="0">-1</tspan><tspan dy="6.5" dx="0.5">)</tspan></text>
<text x="14.0" y="120.9" font-size="15" letter-spacing="0.35" font-weight="bold" text-anchor="middle" transform="rotate(-90 14.0 120.9)" font-family="Liberation Sans, sans-serif">Transmittance (arb.un.)</text>
<text x="199.0" y="546.5" font-size="15.2" letter-spacing="0.3" font-weight="bold" text-anchor="middle" font-family="Liberation Sans, sans-serif">Wavenumber (cm<tspan font-size="9.5" dy="-6.5" letter-spacing="0">-1</tspan><tspan dy="6.5" dx="0.5">)</tspan></text>
<text x="14.0" y="399.2" font-size="15" letter-spacing="0.35" font-weight="bold" text-anchor="middle" transform="rotate(-90 14.0 399.2)" font-family="Liberation Sans, sans-serif">Transmittance (arb.un.)</text>
<text x="132.5" y="40.8" font-size="12.2" text-anchor="start" font-family="Liberation Sans, sans-serif">initial</text>
<text x="128.6" y="57.2" font-size="12.2" text-anchor="start" font-family="Liberation Sans, sans-serif">50<tspan dx="-0.2">°</tspan><tspan dx="-0.3">C</tspan></text>
<text x="121.5" y="70.5" font-size="12.2" text-anchor="start" font-family="Liberation Sans, sans-serif">100<tspan dx="-0.2">°</tspan><tspan dx="-0.3">C</tspan></text>
<text x="114.6" y="88.1" font-size="12.2" text-anchor="start" font-family="Liberation Sans, sans-serif">120<tspan dx="-0.2">°</tspan><tspan dx="-0.3">C</tspan></text>
<text x="104.5" y="111.4" font-size="12.2" text-anchor="start" font-family="Liberation Sans, sans-serif">150<tspan dx="-0.2">°</tspan><tspan dx="-0.3">C</tspan></text>
<text x="91" y="151.8" font-size="12.2" text-anchor="start" font-family="Liberation Sans, sans-serif">180<tspan dx="-0.2">°</tspan><tspan dx="-0.3">C</tspan></text>
<text x="66.8" y="221.6" font-size="12.2" text-anchor="start" font-family="Liberation Sans, sans-serif">250<tspan dx="-0.2">°</tspan><tspan dx="-0.3">C</tspan></text>
<text x="324.9" y="24.1" font-size="22" font-weight="bold" text-anchor="start" font-family="Liberation Sans, sans-serif">a</text>
<text x="176.6" y="28.1" font-size="11" font-family="Liberation Sans, sans-serif">H<tspan font-size="6.8" dy="4.2" dx="0.3">2</tspan><tspan dy="-4.2" dx="0.2">O</tspan></text>
<line x1="186.9" y1="33.5" x2="186.9" y2="38" stroke="#000" stroke-width="1" stroke-dasharray="1,1"/>
<polygon points="185.5,37.6 188.3,37.6 186.9,42" fill="#000"/>
<line x1="85.5" y1="303.9" x2="85.5" y2="451.8" stroke="#000" stroke-width="1"/>
<line x1="111.5" y1="301.8" x2="111.5" y2="468.9" stroke="#000" stroke-width="1"/>
<line x1="167.5" y1="313.5" x2="167.5" y2="471.9" stroke="#000" stroke-width="1"/>
<line x1="185.5" y1="306.4" x2="185.5" y2="454.6" stroke="#000" stroke-width="1"/>
<line x1="196.5" y1="311.5" x2="196.5" y2="459.3" stroke="#000" stroke-width="1"/>
<text x="45.5" y="312.1" font-size="12.2" text-anchor="start" font-family="Liberation Sans, sans-serif">initial</text>
<text x="46.3" y="326.5" font-size="12.2" text-anchor="start" font-family="Liberation Sans, sans-serif">50<tspan dx="-0.2">°</tspan><tspan dx="-0.3">C</tspan></text>
<text x="43.8" y="341.6" font-size="12.2" text-anchor="start" font-family="Liberation Sans, sans-serif">100<tspan dx="-0.2">°</tspan><tspan dx="-0.3">C</tspan></text>
<text x="43.8" y="355.4" font-size="12.2" text-anchor="start" font-family="Liberation Sans, sans-serif">120<tspan dx="-0.2">°</tspan><tspan dx="-0.3">C</tspan></text>
<text x="43.8" y="373.8" font-size="12.2" text-anchor="start" font-family="Liberation Sans, sans-serif">150<tspan dx="-0.2">°</tspan><tspan dx="-0.3">C</tspan></text>
<text x="43.8" y="403.2" font-size="12.2" text-anchor="start" font-family="Liberation Sans, sans-serif">180<tspan dx="-0.2">°</tspan><tspan dx="-0.3">C</tspan></text>
<text x="43.6" y="447.5" font-size="12.2" text-anchor="start" font-family="Liberation Sans, sans-serif">250<tspan dx="-0.2">°</tspan><tspan dx="-0.3">C</tspan></text>
<text x="0" y="0" transform="translate(323.9,303.7) scale(1.12,1)" font-size="22" font-weight="bold" font-family="Liberation Sans, sans-serif">b</text>
<text x="122.9" y="312.9" font-size="11.8" text-anchor="start" font-family="Liberation Sans, sans-serif">1420</text>
<text x="122.9" y="341.4" font-size="11.8" text-anchor="start" font-family="Liberation Sans, sans-serif">COOH</text>
<line x1="139" y1="331" x2="135" y2="320" stroke="#000" stroke-width="0.8"/>
<polygon points="133.2,321 136.2,320 134,316.5" fill="#000"/>
<text x="172.1" y="304.7" font-size="11.8" text-anchor="start" font-family="Liberation Sans, sans-serif">1110</text>
<text x="73.1" y="466.9" font-size="11.8" text-anchor="start" font-family="Liberation Sans, sans-serif">1730</text>
<text x="62" y="477.7" font-size="11.8" text-anchor="start" font-family="Liberation Sans, sans-serif">carbonyl</text>
<text x="72" y="493.1" font-size="11.8" text-anchor="start" font-family="Liberation Sans, sans-serif">C=O</text>
<text x="112.6" y="422.5" font-size="11.8" text-anchor="start" font-family="Liberation Sans, sans-serif">1570</text>
<text x="114" y="434.2" font-size="11.8" text-anchor="start" font-family="Liberation Sans, sans-serif">C=C</text>
<text x="154.5" y="484.5" font-size="11.8" text-anchor="start" font-family="Liberation Sans, sans-serif">1220</text>
<text x="150.6" y="495.1" font-size="11.8" text-anchor="start" font-family="Liberation Sans, sans-serif">C-O-C</text>
<text x="184.7" y="470.5" font-size="11.8" text-anchor="start" font-family="Liberation Sans, sans-serif">1040</text>
<text x="187.5" y="482" font-size="11.8" text-anchor="start" font-family="Liberation Sans, sans-serif">C-O</text>
</svg>
</body></html>
